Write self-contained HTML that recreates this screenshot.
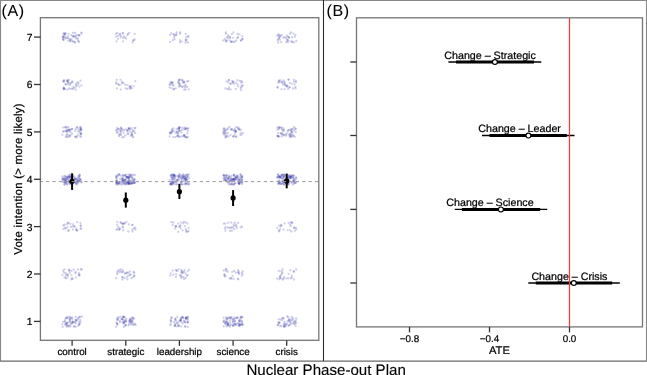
<!DOCTYPE html>
<html><head><meta charset="utf-8"><style>
html,body{margin:0;padding:0;background:#fff;width:647px;height:375px;overflow:hidden}
svg{display:block;will-change:transform;font-family:"Liberation Sans",sans-serif}
text{fill:#000;text-rendering:geometricPrecision;stroke:#000;stroke-width:0.22px}
</style></head><body>
<svg width="647" height="375" viewBox="0 0 647 375" font-family="Liberation Sans, sans-serif">
<rect width="647" height="375" fill="#fff"/>
<g fill="#3434a4" fill-opacity="0.235"><circle cx="68.6" cy="33.8" r="1.15"/><circle cx="75.1" cy="33.0" r="1.15"/><circle cx="72.8" cy="36.0" r="1.15"/><circle cx="63.4" cy="37.5" r="1.15"/><circle cx="63.0" cy="36.7" r="1.15"/><circle cx="63.7" cy="33.2" r="1.15"/><circle cx="70.6" cy="40.8" r="1.15"/><circle cx="64.7" cy="34.5" r="1.15"/><circle cx="74.6" cy="42.1" r="1.15"/><circle cx="73.6" cy="36.3" r="1.15"/><circle cx="81.4" cy="32.7" r="1.15"/><circle cx="79.1" cy="35.2" r="1.15"/><circle cx="65.1" cy="33.4" r="1.15"/><circle cx="68.3" cy="40.7" r="1.15"/><circle cx="65.8" cy="38.3" r="1.15"/><circle cx="74.8" cy="36.1" r="1.15"/><circle cx="73.0" cy="32.9" r="1.15"/><circle cx="63.5" cy="34.4" r="1.15"/><circle cx="75.6" cy="36.7" r="1.15"/><circle cx="68.5" cy="38.3" r="1.15"/><circle cx="71.2" cy="35.3" r="1.15"/><circle cx="77.9" cy="39.5" r="1.15"/><circle cx="67.1" cy="38.2" r="1.15"/><circle cx="72.6" cy="41.3" r="1.15"/><circle cx="76.6" cy="35.2" r="1.15"/><circle cx="81.5" cy="33.4" r="1.15"/><circle cx="70.5" cy="40.1" r="1.15"/><circle cx="65.3" cy="37.3" r="1.15"/><circle cx="63.1" cy="39.2" r="1.15"/><circle cx="77.3" cy="38.2" r="1.15"/><circle cx="79.5" cy="35.5" r="1.15"/><circle cx="75.9" cy="38.4" r="1.15"/><circle cx="73.7" cy="37.0" r="1.15"/><circle cx="78.8" cy="42.0" r="1.15"/><circle cx="71.6" cy="39.1" r="1.15"/><circle cx="63.5" cy="39.5" r="1.15"/><circle cx="75.0" cy="42.5" r="1.15"/><circle cx="78.4" cy="35.2" r="1.15"/><circle cx="69.9" cy="39.2" r="1.15"/><circle cx="62.7" cy="37.0" r="1.15"/><circle cx="65.6" cy="33.4" r="1.15"/><circle cx="63.5" cy="40.2" r="1.15"/><circle cx="64.8" cy="34.8" r="1.15"/><circle cx="70.0" cy="41.3" r="1.15"/><circle cx="63.9" cy="36.9" r="1.15"/><circle cx="73.1" cy="41.4" r="1.15"/><circle cx="78.4" cy="41.2" r="1.15"/><circle cx="67.8" cy="36.5" r="1.15"/><circle cx="123.0" cy="41.4" r="1.15"/><circle cx="134.8" cy="33.8" r="1.15"/><circle cx="119.5" cy="34.6" r="1.15"/><circle cx="120.6" cy="37.3" r="1.15"/><circle cx="127.5" cy="35.0" r="1.15"/><circle cx="116.1" cy="36.6" r="1.15"/><circle cx="123.2" cy="38.1" r="1.15"/><circle cx="134.7" cy="39.4" r="1.15"/><circle cx="126.1" cy="38.6" r="1.15"/><circle cx="129.3" cy="32.8" r="1.15"/><circle cx="133.6" cy="40.3" r="1.15"/><circle cx="133.1" cy="40.5" r="1.15"/><circle cx="123.7" cy="36.4" r="1.15"/><circle cx="118.0" cy="38.8" r="1.15"/><circle cx="117.2" cy="32.9" r="1.15"/><circle cx="120.1" cy="33.9" r="1.15"/><circle cx="122.7" cy="32.8" r="1.15"/><circle cx="116.0" cy="33.8" r="1.15"/><circle cx="118.0" cy="36.0" r="1.15"/><circle cx="116.5" cy="41.3" r="1.15"/><circle cx="128.0" cy="33.8" r="1.15"/><circle cx="120.9" cy="35.8" r="1.15"/><circle cx="123.1" cy="33.5" r="1.15"/><circle cx="132.6" cy="42.5" r="1.15"/><circle cx="125.1" cy="37.3" r="1.15"/><circle cx="171.3" cy="33.3" r="1.15"/><circle cx="176.3" cy="35.0" r="1.15"/><circle cx="185.8" cy="33.9" r="1.15"/><circle cx="170.1" cy="42.1" r="1.15"/><circle cx="180.0" cy="33.7" r="1.15"/><circle cx="180.2" cy="32.5" r="1.15"/><circle cx="180.0" cy="42.4" r="1.15"/><circle cx="186.5" cy="39.5" r="1.15"/><circle cx="174.7" cy="36.0" r="1.15"/><circle cx="172.9" cy="40.2" r="1.15"/><circle cx="180.0" cy="40.3" r="1.15"/><circle cx="176.1" cy="34.5" r="1.15"/><circle cx="185.5" cy="42.5" r="1.15"/><circle cx="186.3" cy="40.6" r="1.15"/><circle cx="185.6" cy="39.9" r="1.15"/><circle cx="174.0" cy="37.6" r="1.15"/><circle cx="176.6" cy="32.5" r="1.15"/><circle cx="170.1" cy="35.1" r="1.15"/><circle cx="174.7" cy="39.4" r="1.15"/><circle cx="188.3" cy="36.9" r="1.15"/><circle cx="188.0" cy="42.5" r="1.15"/><circle cx="188.3" cy="36.0" r="1.15"/><circle cx="173.9" cy="34.6" r="1.15"/><circle cx="173.5" cy="34.3" r="1.15"/><circle cx="181.8" cy="41.6" r="1.15"/><circle cx="186.1" cy="37.2" r="1.15"/><circle cx="236.1" cy="40.5" r="1.15"/><circle cx="225.0" cy="39.1" r="1.15"/><circle cx="241.1" cy="40.4" r="1.15"/><circle cx="238.0" cy="37.2" r="1.15"/><circle cx="226.8" cy="40.4" r="1.15"/><circle cx="229.8" cy="40.5" r="1.15"/><circle cx="242.3" cy="36.3" r="1.15"/><circle cx="231.2" cy="42.1" r="1.15"/><circle cx="237.5" cy="34.0" r="1.15"/><circle cx="225.8" cy="33.8" r="1.15"/><circle cx="241.0" cy="40.6" r="1.15"/><circle cx="226.2" cy="40.8" r="1.15"/><circle cx="242.5" cy="39.1" r="1.15"/><circle cx="230.2" cy="37.9" r="1.15"/><circle cx="225.9" cy="32.4" r="1.15"/><circle cx="242.3" cy="39.0" r="1.15"/><circle cx="233.6" cy="41.9" r="1.15"/><circle cx="231.8" cy="41.3" r="1.15"/><circle cx="239.5" cy="34.4" r="1.15"/><circle cx="228.2" cy="35.3" r="1.15"/><circle cx="228.0" cy="38.3" r="1.15"/><circle cx="228.4" cy="36.6" r="1.15"/><circle cx="225.9" cy="41.7" r="1.15"/><circle cx="230.2" cy="37.0" r="1.15"/><circle cx="234.7" cy="41.6" r="1.15"/><circle cx="231.5" cy="41.8" r="1.15"/><circle cx="233.1" cy="37.8" r="1.15"/><circle cx="233.6" cy="32.4" r="1.15"/><circle cx="231.9" cy="34.1" r="1.15"/><circle cx="223.4" cy="40.5" r="1.15"/><circle cx="226.7" cy="37.1" r="1.15"/><circle cx="237.5" cy="38.0" r="1.15"/><circle cx="283.3" cy="37.6" r="1.15"/><circle cx="287.8" cy="40.4" r="1.15"/><circle cx="279.0" cy="38.0" r="1.15"/><circle cx="281.8" cy="35.1" r="1.15"/><circle cx="292.0" cy="37.5" r="1.15"/><circle cx="287.9" cy="40.1" r="1.15"/><circle cx="294.8" cy="36.8" r="1.15"/><circle cx="288.9" cy="37.5" r="1.15"/><circle cx="286.9" cy="39.4" r="1.15"/><circle cx="285.8" cy="37.8" r="1.15"/><circle cx="286.3" cy="42.0" r="1.15"/><circle cx="290.6" cy="41.3" r="1.15"/><circle cx="295.4" cy="34.9" r="1.15"/><circle cx="287.9" cy="42.0" r="1.15"/><circle cx="293.4" cy="33.6" r="1.15"/><circle cx="279.3" cy="36.8" r="1.15"/><circle cx="278.3" cy="34.7" r="1.15"/><circle cx="278.3" cy="39.2" r="1.15"/><circle cx="292.3" cy="41.5" r="1.15"/><circle cx="279.9" cy="39.7" r="1.15"/><circle cx="289.8" cy="33.7" r="1.15"/><circle cx="294.2" cy="42.3" r="1.15"/><circle cx="281.2" cy="42.1" r="1.15"/><circle cx="284.7" cy="37.3" r="1.15"/><circle cx="296.3" cy="40.9" r="1.15"/><circle cx="280.1" cy="36.7" r="1.15"/><circle cx="287.0" cy="35.7" r="1.15"/><circle cx="280.7" cy="35.5" r="1.15"/><circle cx="291.1" cy="32.4" r="1.15"/><circle cx="287.8" cy="36.8" r="1.15"/><circle cx="277.3" cy="35.7" r="1.15"/><circle cx="289.1" cy="37.5" r="1.15"/><circle cx="278.2" cy="42.5" r="1.15"/><circle cx="292.4" cy="42.3" r="1.15"/><circle cx="279.0" cy="35.0" r="1.15"/><circle cx="277.7" cy="40.3" r="1.15"/><circle cx="67.6" cy="80.9" r="1.15"/><circle cx="70.6" cy="89.1" r="1.15"/><circle cx="78.4" cy="82.3" r="1.15"/><circle cx="65.2" cy="89.2" r="1.15"/><circle cx="73.5" cy="86.9" r="1.15"/><circle cx="64.1" cy="80.2" r="1.15"/><circle cx="75.8" cy="84.0" r="1.15"/><circle cx="63.7" cy="89.4" r="1.15"/><circle cx="74.7" cy="87.9" r="1.15"/><circle cx="63.9" cy="88.5" r="1.15"/><circle cx="63.6" cy="88.6" r="1.15"/><circle cx="71.2" cy="83.1" r="1.15"/><circle cx="73.1" cy="89.2" r="1.15"/><circle cx="67.6" cy="80.9" r="1.15"/><circle cx="72.6" cy="82.1" r="1.15"/><circle cx="64.4" cy="81.3" r="1.15"/><circle cx="63.3" cy="81.7" r="1.15"/><circle cx="68.4" cy="82.8" r="1.15"/><circle cx="77.2" cy="82.6" r="1.15"/><circle cx="72.1" cy="81.5" r="1.15"/><circle cx="69.1" cy="79.8" r="1.15"/><circle cx="67.2" cy="79.8" r="1.15"/><circle cx="76.7" cy="85.3" r="1.15"/><circle cx="66.0" cy="84.5" r="1.15"/><circle cx="80.6" cy="80.7" r="1.15"/><circle cx="78.4" cy="84.1" r="1.15"/><circle cx="72.0" cy="88.3" r="1.15"/><circle cx="70.0" cy="84.9" r="1.15"/><circle cx="75.8" cy="89.8" r="1.15"/><circle cx="69.0" cy="88.3" r="1.15"/><circle cx="76.2" cy="86.2" r="1.15"/><circle cx="70.2" cy="83.2" r="1.15"/><circle cx="63.4" cy="81.0" r="1.15"/><circle cx="63.7" cy="87.3" r="1.15"/><circle cx="67.3" cy="81.3" r="1.15"/><circle cx="64.0" cy="88.3" r="1.15"/><circle cx="79.4" cy="86.6" r="1.15"/><circle cx="67.8" cy="82.1" r="1.15"/><circle cx="68.0" cy="84.4" r="1.15"/><circle cx="65.4" cy="84.2" r="1.15"/><circle cx="67.5" cy="89.6" r="1.15"/><circle cx="81.4" cy="85.3" r="1.15"/><circle cx="120.8" cy="89.6" r="1.15"/><circle cx="122.1" cy="83.3" r="1.15"/><circle cx="116.0" cy="83.6" r="1.15"/><circle cx="125.3" cy="84.8" r="1.15"/><circle cx="119.9" cy="84.8" r="1.15"/><circle cx="116.1" cy="82.3" r="1.15"/><circle cx="117.8" cy="83.8" r="1.15"/><circle cx="116.8" cy="79.8" r="1.15"/><circle cx="122.0" cy="82.0" r="1.15"/><circle cx="127.5" cy="85.1" r="1.15"/><circle cx="130.7" cy="86.4" r="1.15"/><circle cx="130.0" cy="88.7" r="1.15"/><circle cx="123.6" cy="83.0" r="1.15"/><circle cx="135.3" cy="81.2" r="1.15"/><circle cx="130.2" cy="86.3" r="1.15"/><circle cx="116.9" cy="88.3" r="1.15"/><circle cx="133.5" cy="86.1" r="1.15"/><circle cx="130.4" cy="88.0" r="1.15"/><circle cx="118.7" cy="85.0" r="1.15"/><circle cx="125.9" cy="88.3" r="1.15"/><circle cx="131.8" cy="88.2" r="1.15"/><circle cx="127.4" cy="88.9" r="1.15"/><circle cx="129.4" cy="86.8" r="1.15"/><circle cx="120.5" cy="79.9" r="1.15"/><circle cx="172.2" cy="83.4" r="1.15"/><circle cx="171.7" cy="88.3" r="1.15"/><circle cx="180.5" cy="86.1" r="1.15"/><circle cx="181.9" cy="86.7" r="1.15"/><circle cx="179.2" cy="79.6" r="1.15"/><circle cx="185.2" cy="87.4" r="1.15"/><circle cx="179.5" cy="85.2" r="1.15"/><circle cx="182.5" cy="80.3" r="1.15"/><circle cx="184.0" cy="82.2" r="1.15"/><circle cx="171.1" cy="82.4" r="1.15"/><circle cx="183.9" cy="81.7" r="1.15"/><circle cx="184.1" cy="89.7" r="1.15"/><circle cx="179.3" cy="83.6" r="1.15"/><circle cx="179.0" cy="86.7" r="1.15"/><circle cx="184.6" cy="86.0" r="1.15"/><circle cx="182.2" cy="80.4" r="1.15"/><circle cx="172.5" cy="82.2" r="1.15"/><circle cx="184.2" cy="82.8" r="1.15"/><circle cx="180.7" cy="79.7" r="1.15"/><circle cx="170.8" cy="82.4" r="1.15"/><circle cx="182.8" cy="86.8" r="1.15"/><circle cx="182.8" cy="82.6" r="1.15"/><circle cx="179.7" cy="84.4" r="1.15"/><circle cx="178.7" cy="80.8" r="1.15"/><circle cx="187.1" cy="81.7" r="1.15"/><circle cx="188.8" cy="89.3" r="1.15"/><circle cx="169.9" cy="84.4" r="1.15"/><circle cx="185.7" cy="89.7" r="1.15"/><circle cx="178.4" cy="82.4" r="1.15"/><circle cx="173.7" cy="89.4" r="1.15"/><circle cx="173.7" cy="85.6" r="1.15"/><circle cx="172.4" cy="85.1" r="1.15"/><circle cx="188.3" cy="81.0" r="1.15"/><circle cx="185.7" cy="84.9" r="1.15"/><circle cx="187.0" cy="86.9" r="1.15"/><circle cx="174.1" cy="88.9" r="1.15"/><circle cx="179.1" cy="79.9" r="1.15"/><circle cx="169.7" cy="84.7" r="1.15"/><circle cx="178.4" cy="82.7" r="1.15"/><circle cx="172.4" cy="83.2" r="1.15"/><circle cx="175.8" cy="88.3" r="1.15"/><circle cx="169.6" cy="87.4" r="1.15"/><circle cx="239.7" cy="80.8" r="1.15"/><circle cx="241.5" cy="87.0" r="1.15"/><circle cx="241.0" cy="82.6" r="1.15"/><circle cx="230.6" cy="83.7" r="1.15"/><circle cx="242.9" cy="85.7" r="1.15"/><circle cx="230.4" cy="84.1" r="1.15"/><circle cx="228.7" cy="80.1" r="1.15"/><circle cx="225.3" cy="88.3" r="1.15"/><circle cx="228.9" cy="89.3" r="1.15"/><circle cx="228.2" cy="82.4" r="1.15"/><circle cx="233.3" cy="81.6" r="1.15"/><circle cx="230.6" cy="89.5" r="1.15"/><circle cx="240.6" cy="88.0" r="1.15"/><circle cx="235.7" cy="89.1" r="1.15"/><circle cx="241.7" cy="85.3" r="1.15"/><circle cx="237.4" cy="80.1" r="1.15"/><circle cx="237.7" cy="84.3" r="1.15"/><circle cx="238.1" cy="86.3" r="1.15"/><circle cx="228.9" cy="80.1" r="1.15"/><circle cx="241.5" cy="80.9" r="1.15"/><circle cx="232.6" cy="83.2" r="1.15"/><circle cx="229.1" cy="87.3" r="1.15"/><circle cx="242.4" cy="82.3" r="1.15"/><circle cx="236.2" cy="82.7" r="1.15"/><circle cx="234.2" cy="83.7" r="1.15"/><circle cx="226.6" cy="81.3" r="1.15"/><circle cx="227.4" cy="89.0" r="1.15"/><circle cx="233.0" cy="81.9" r="1.15"/><circle cx="241.1" cy="90.0" r="1.15"/><circle cx="232.1" cy="81.1" r="1.15"/><circle cx="280.7" cy="80.5" r="1.15"/><circle cx="283.6" cy="80.5" r="1.15"/><circle cx="281.6" cy="82.3" r="1.15"/><circle cx="288.1" cy="88.8" r="1.15"/><circle cx="291.6" cy="83.9" r="1.15"/><circle cx="285.0" cy="85.1" r="1.15"/><circle cx="284.3" cy="83.1" r="1.15"/><circle cx="278.1" cy="82.5" r="1.15"/><circle cx="295.9" cy="80.9" r="1.15"/><circle cx="286.8" cy="86.1" r="1.15"/><circle cx="293.8" cy="81.8" r="1.15"/><circle cx="282.2" cy="82.2" r="1.15"/><circle cx="284.7" cy="84.2" r="1.15"/><circle cx="295.6" cy="88.4" r="1.15"/><circle cx="294.0" cy="79.8" r="1.15"/><circle cx="277.5" cy="87.0" r="1.15"/><circle cx="294.5" cy="84.5" r="1.15"/><circle cx="288.4" cy="79.6" r="1.15"/><circle cx="284.6" cy="89.2" r="1.15"/><circle cx="293.1" cy="88.5" r="1.15"/><circle cx="296.0" cy="82.2" r="1.15"/><circle cx="279.0" cy="81.2" r="1.15"/><circle cx="287.1" cy="86.7" r="1.15"/><circle cx="295.4" cy="87.1" r="1.15"/><circle cx="289.6" cy="87.6" r="1.15"/><circle cx="285.9" cy="85.3" r="1.15"/><circle cx="277.7" cy="87.7" r="1.15"/><circle cx="281.5" cy="89.2" r="1.15"/><circle cx="289.6" cy="82.8" r="1.15"/><circle cx="279.4" cy="82.2" r="1.15"/><circle cx="289.4" cy="86.9" r="1.15"/><circle cx="279.1" cy="80.3" r="1.15"/><circle cx="287.2" cy="85.7" r="1.15"/><circle cx="284.5" cy="81.9" r="1.15"/><circle cx="288.7" cy="79.7" r="1.15"/><circle cx="282.8" cy="84.4" r="1.15"/><circle cx="81.1" cy="133.7" r="1.15"/><circle cx="79.6" cy="131.9" r="1.15"/><circle cx="66.9" cy="129.5" r="1.15"/><circle cx="81.1" cy="134.3" r="1.15"/><circle cx="68.3" cy="127.2" r="1.15"/><circle cx="72.1" cy="134.0" r="1.15"/><circle cx="70.5" cy="129.7" r="1.15"/><circle cx="75.4" cy="136.6" r="1.15"/><circle cx="66.7" cy="127.3" r="1.15"/><circle cx="68.9" cy="131.4" r="1.15"/><circle cx="75.7" cy="129.0" r="1.15"/><circle cx="77.9" cy="134.7" r="1.15"/><circle cx="72.2" cy="129.1" r="1.15"/><circle cx="81.3" cy="130.2" r="1.15"/><circle cx="78.4" cy="129.4" r="1.15"/><circle cx="66.6" cy="134.9" r="1.15"/><circle cx="68.1" cy="136.9" r="1.15"/><circle cx="72.0" cy="128.9" r="1.15"/><circle cx="66.7" cy="131.3" r="1.15"/><circle cx="75.3" cy="136.8" r="1.15"/><circle cx="65.2" cy="131.1" r="1.15"/><circle cx="66.5" cy="137.1" r="1.15"/><circle cx="65.1" cy="127.5" r="1.15"/><circle cx="63.5" cy="131.1" r="1.15"/><circle cx="79.9" cy="136.2" r="1.15"/><circle cx="76.7" cy="137.4" r="1.15"/><circle cx="80.6" cy="130.4" r="1.15"/><circle cx="65.9" cy="136.7" r="1.15"/><circle cx="76.9" cy="127.3" r="1.15"/><circle cx="75.3" cy="130.9" r="1.15"/><circle cx="69.6" cy="130.4" r="1.15"/><circle cx="65.6" cy="127.0" r="1.15"/><circle cx="67.8" cy="130.6" r="1.15"/><circle cx="81.0" cy="128.3" r="1.15"/><circle cx="81.2" cy="129.1" r="1.15"/><circle cx="69.3" cy="135.5" r="1.15"/><circle cx="78.4" cy="131.5" r="1.15"/><circle cx="63.3" cy="131.9" r="1.15"/><circle cx="69.6" cy="136.5" r="1.15"/><circle cx="66.1" cy="130.8" r="1.15"/><circle cx="79.9" cy="127.3" r="1.15"/><circle cx="70.4" cy="135.4" r="1.15"/><circle cx="77.3" cy="127.4" r="1.15"/><circle cx="63.0" cy="127.6" r="1.15"/><circle cx="80.3" cy="129.7" r="1.15"/><circle cx="76.9" cy="136.3" r="1.15"/><circle cx="68.9" cy="129.8" r="1.15"/><circle cx="81.1" cy="133.4" r="1.15"/><circle cx="67.4" cy="134.4" r="1.15"/><circle cx="68.5" cy="129.8" r="1.15"/><circle cx="62.4" cy="134.8" r="1.15"/><circle cx="80.3" cy="133.6" r="1.15"/><circle cx="80.8" cy="127.2" r="1.15"/><circle cx="66.9" cy="131.9" r="1.15"/><circle cx="81.1" cy="136.9" r="1.15"/><circle cx="69.9" cy="129.6" r="1.15"/><circle cx="70.7" cy="132.1" r="1.15"/><circle cx="80.5" cy="128.9" r="1.15"/><circle cx="131.7" cy="134.7" r="1.15"/><circle cx="132.1" cy="135.0" r="1.15"/><circle cx="127.9" cy="130.4" r="1.15"/><circle cx="122.3" cy="130.7" r="1.15"/><circle cx="131.3" cy="127.8" r="1.15"/><circle cx="119.9" cy="134.8" r="1.15"/><circle cx="120.8" cy="127.7" r="1.15"/><circle cx="116.7" cy="132.7" r="1.15"/><circle cx="122.4" cy="137.2" r="1.15"/><circle cx="133.3" cy="137.3" r="1.15"/><circle cx="121.2" cy="127.9" r="1.15"/><circle cx="117.9" cy="132.2" r="1.15"/><circle cx="129.9" cy="131.6" r="1.15"/><circle cx="120.6" cy="131.3" r="1.15"/><circle cx="128.2" cy="134.0" r="1.15"/><circle cx="130.7" cy="135.8" r="1.15"/><circle cx="129.0" cy="128.2" r="1.15"/><circle cx="132.5" cy="130.0" r="1.15"/><circle cx="127.1" cy="130.9" r="1.15"/><circle cx="130.5" cy="129.1" r="1.15"/><circle cx="120.8" cy="129.5" r="1.15"/><circle cx="119.0" cy="136.2" r="1.15"/><circle cx="127.3" cy="130.4" r="1.15"/><circle cx="123.8" cy="137.3" r="1.15"/><circle cx="125.9" cy="129.4" r="1.15"/><circle cx="131.8" cy="133.8" r="1.15"/><circle cx="135.4" cy="128.0" r="1.15"/><circle cx="125.3" cy="135.5" r="1.15"/><circle cx="132.5" cy="136.5" r="1.15"/><circle cx="116.8" cy="130.0" r="1.15"/><circle cx="118.3" cy="129.0" r="1.15"/><circle cx="135.1" cy="133.0" r="1.15"/><circle cx="134.2" cy="130.9" r="1.15"/><circle cx="133.0" cy="131.7" r="1.15"/><circle cx="121.1" cy="135.1" r="1.15"/><circle cx="134.5" cy="128.1" r="1.15"/><circle cx="127.7" cy="133.4" r="1.15"/><circle cx="120.3" cy="130.8" r="1.15"/><circle cx="118.8" cy="129.1" r="1.15"/><circle cx="121.0" cy="133.2" r="1.15"/><circle cx="128.8" cy="129.1" r="1.15"/><circle cx="116.2" cy="130.4" r="1.15"/><circle cx="129.3" cy="128.9" r="1.15"/><circle cx="122.1" cy="129.1" r="1.15"/><circle cx="131.6" cy="132.7" r="1.15"/><circle cx="117.2" cy="128.0" r="1.15"/><circle cx="123.7" cy="132.7" r="1.15"/><circle cx="128.5" cy="127.9" r="1.15"/><circle cx="119.2" cy="134.2" r="1.15"/><circle cx="124.0" cy="129.9" r="1.15"/><circle cx="175.6" cy="136.9" r="1.15"/><circle cx="175.7" cy="132.9" r="1.15"/><circle cx="176.6" cy="131.3" r="1.15"/><circle cx="186.5" cy="137.3" r="1.15"/><circle cx="176.7" cy="129.0" r="1.15"/><circle cx="183.9" cy="129.1" r="1.15"/><circle cx="169.7" cy="136.4" r="1.15"/><circle cx="177.9" cy="135.5" r="1.15"/><circle cx="177.6" cy="136.2" r="1.15"/><circle cx="178.6" cy="128.7" r="1.15"/><circle cx="169.9" cy="132.7" r="1.15"/><circle cx="182.2" cy="136.4" r="1.15"/><circle cx="171.3" cy="133.5" r="1.15"/><circle cx="176.9" cy="132.2" r="1.15"/><circle cx="172.5" cy="129.9" r="1.15"/><circle cx="179.8" cy="136.6" r="1.15"/><circle cx="171.7" cy="132.1" r="1.15"/><circle cx="185.4" cy="137.0" r="1.15"/><circle cx="173.5" cy="128.3" r="1.15"/><circle cx="188.1" cy="137.1" r="1.15"/><circle cx="179.1" cy="127.5" r="1.15"/><circle cx="187.8" cy="131.0" r="1.15"/><circle cx="187.3" cy="133.4" r="1.15"/><circle cx="185.8" cy="128.6" r="1.15"/><circle cx="185.0" cy="129.3" r="1.15"/><circle cx="177.5" cy="135.8" r="1.15"/><circle cx="185.9" cy="128.9" r="1.15"/><circle cx="173.9" cy="131.1" r="1.15"/><circle cx="179.8" cy="131.0" r="1.15"/><circle cx="172.0" cy="129.5" r="1.15"/><circle cx="183.8" cy="136.3" r="1.15"/><circle cx="170.4" cy="132.8" r="1.15"/><circle cx="184.4" cy="127.4" r="1.15"/><circle cx="186.0" cy="128.2" r="1.15"/><circle cx="181.4" cy="132.7" r="1.15"/><circle cx="181.9" cy="130.2" r="1.15"/><circle cx="177.8" cy="133.0" r="1.15"/><circle cx="177.9" cy="133.8" r="1.15"/><circle cx="178.4" cy="131.5" r="1.15"/><circle cx="170.1" cy="133.4" r="1.15"/><circle cx="179.2" cy="129.4" r="1.15"/><circle cx="184.6" cy="135.1" r="1.15"/><circle cx="178.6" cy="128.8" r="1.15"/><circle cx="178.9" cy="128.1" r="1.15"/><circle cx="172.1" cy="131.5" r="1.15"/><circle cx="171.4" cy="131.6" r="1.15"/><circle cx="179.6" cy="127.4" r="1.15"/><circle cx="182.1" cy="127.8" r="1.15"/><circle cx="184.0" cy="135.1" r="1.15"/><circle cx="179.6" cy="127.5" r="1.15"/><circle cx="179.5" cy="130.9" r="1.15"/><circle cx="188.2" cy="128.4" r="1.15"/><circle cx="186.4" cy="137.3" r="1.15"/><circle cx="183.9" cy="135.5" r="1.15"/><circle cx="173.4" cy="137.2" r="1.15"/><circle cx="179.2" cy="136.9" r="1.15"/><circle cx="187.6" cy="128.7" r="1.15"/><circle cx="185.1" cy="136.7" r="1.15"/><circle cx="224.6" cy="130.6" r="1.15"/><circle cx="238.1" cy="128.6" r="1.15"/><circle cx="240.9" cy="129.8" r="1.15"/><circle cx="239.3" cy="128.5" r="1.15"/><circle cx="233.1" cy="136.5" r="1.15"/><circle cx="227.4" cy="129.7" r="1.15"/><circle cx="233.2" cy="130.3" r="1.15"/><circle cx="224.0" cy="128.9" r="1.15"/><circle cx="226.5" cy="136.7" r="1.15"/><circle cx="236.6" cy="136.3" r="1.15"/><circle cx="226.6" cy="135.1" r="1.15"/><circle cx="225.6" cy="132.5" r="1.15"/><circle cx="235.8" cy="130.7" r="1.15"/><circle cx="240.4" cy="132.8" r="1.15"/><circle cx="234.7" cy="136.2" r="1.15"/><circle cx="225.4" cy="137.3" r="1.15"/><circle cx="235.6" cy="131.1" r="1.15"/><circle cx="238.9" cy="129.7" r="1.15"/><circle cx="242.7" cy="133.0" r="1.15"/><circle cx="230.4" cy="134.9" r="1.15"/><circle cx="232.0" cy="128.8" r="1.15"/><circle cx="237.9" cy="127.5" r="1.15"/><circle cx="239.4" cy="129.6" r="1.15"/><circle cx="235.8" cy="137.2" r="1.15"/><circle cx="234.8" cy="133.9" r="1.15"/><circle cx="229.4" cy="127.0" r="1.15"/><circle cx="224.0" cy="128.5" r="1.15"/><circle cx="235.4" cy="131.5" r="1.15"/><circle cx="233.3" cy="136.3" r="1.15"/><circle cx="225.9" cy="129.3" r="1.15"/><circle cx="236.1" cy="127.2" r="1.15"/><circle cx="223.4" cy="130.7" r="1.15"/><circle cx="225.4" cy="130.7" r="1.15"/><circle cx="227.7" cy="133.0" r="1.15"/><circle cx="234.8" cy="129.1" r="1.15"/><circle cx="235.5" cy="131.9" r="1.15"/><circle cx="225.9" cy="136.7" r="1.15"/><circle cx="228.1" cy="128.5" r="1.15"/><circle cx="225.2" cy="133.6" r="1.15"/><circle cx="240.4" cy="135.1" r="1.15"/><circle cx="231.2" cy="129.7" r="1.15"/><circle cx="223.5" cy="133.7" r="1.15"/><circle cx="234.3" cy="130.6" r="1.15"/><circle cx="236.0" cy="131.6" r="1.15"/><circle cx="241.7" cy="134.6" r="1.15"/><circle cx="228.2" cy="136.4" r="1.15"/><circle cx="224.2" cy="132.5" r="1.15"/><circle cx="231.3" cy="129.5" r="1.15"/><circle cx="224.4" cy="135.1" r="1.15"/><circle cx="223.5" cy="132.7" r="1.15"/><circle cx="295.3" cy="128.5" r="1.15"/><circle cx="280.8" cy="133.3" r="1.15"/><circle cx="286.8" cy="133.7" r="1.15"/><circle cx="292.8" cy="128.8" r="1.15"/><circle cx="283.0" cy="130.1" r="1.15"/><circle cx="277.9" cy="136.2" r="1.15"/><circle cx="292.2" cy="134.4" r="1.15"/><circle cx="277.0" cy="135.8" r="1.15"/><circle cx="291.5" cy="131.8" r="1.15"/><circle cx="291.4" cy="131.7" r="1.15"/><circle cx="281.3" cy="128.1" r="1.15"/><circle cx="281.5" cy="127.4" r="1.15"/><circle cx="283.5" cy="134.8" r="1.15"/><circle cx="290.5" cy="135.8" r="1.15"/><circle cx="290.8" cy="129.7" r="1.15"/><circle cx="287.8" cy="131.5" r="1.15"/><circle cx="292.4" cy="132.4" r="1.15"/><circle cx="282.1" cy="133.7" r="1.15"/><circle cx="295.8" cy="129.2" r="1.15"/><circle cx="294.1" cy="127.1" r="1.15"/><circle cx="282.0" cy="129.4" r="1.15"/><circle cx="291.5" cy="136.8" r="1.15"/><circle cx="291.5" cy="130.4" r="1.15"/><circle cx="294.2" cy="130.4" r="1.15"/><circle cx="281.6" cy="136.4" r="1.15"/><circle cx="289.3" cy="134.2" r="1.15"/><circle cx="289.9" cy="137.2" r="1.15"/><circle cx="286.1" cy="135.7" r="1.15"/><circle cx="290.6" cy="135.9" r="1.15"/><circle cx="285.5" cy="134.5" r="1.15"/><circle cx="288.1" cy="130.2" r="1.15"/><circle cx="281.1" cy="133.5" r="1.15"/><circle cx="278.4" cy="136.5" r="1.15"/><circle cx="279.7" cy="127.3" r="1.15"/><circle cx="279.0" cy="136.6" r="1.15"/><circle cx="283.7" cy="128.5" r="1.15"/><circle cx="277.5" cy="127.4" r="1.15"/><circle cx="290.5" cy="133.6" r="1.15"/><circle cx="290.6" cy="134.6" r="1.15"/><circle cx="278.2" cy="133.1" r="1.15"/><circle cx="284.0" cy="135.5" r="1.15"/><circle cx="293.0" cy="136.2" r="1.15"/><circle cx="278.2" cy="136.0" r="1.15"/><circle cx="294.8" cy="136.8" r="1.15"/><circle cx="279.0" cy="129.1" r="1.15"/><circle cx="279.1" cy="127.3" r="1.15"/><circle cx="293.5" cy="135.4" r="1.15"/><circle cx="289.3" cy="135.6" r="1.15"/><circle cx="289.3" cy="130.0" r="1.15"/><circle cx="278.9" cy="128.0" r="1.15"/><circle cx="291.7" cy="129.1" r="1.15"/><circle cx="283.2" cy="131.4" r="1.15"/><circle cx="277.3" cy="129.6" r="1.15"/><circle cx="282.4" cy="134.4" r="1.15"/><circle cx="284.1" cy="130.3" r="1.15"/><circle cx="295.8" cy="132.2" r="1.15"/><circle cx="79.0" cy="180.8" r="1.15"/><circle cx="62.9" cy="178.7" r="1.15"/><circle cx="70.9" cy="182.4" r="1.15"/><circle cx="69.1" cy="181.7" r="1.15"/><circle cx="72.8" cy="176.6" r="1.15"/><circle cx="79.2" cy="175.3" r="1.15"/><circle cx="78.4" cy="176.1" r="1.15"/><circle cx="62.3" cy="176.5" r="1.15"/><circle cx="77.2" cy="184.5" r="1.15"/><circle cx="62.4" cy="179.5" r="1.15"/><circle cx="71.9" cy="182.6" r="1.15"/><circle cx="65.9" cy="179.5" r="1.15"/><circle cx="69.1" cy="183.0" r="1.15"/><circle cx="67.4" cy="184.2" r="1.15"/><circle cx="67.9" cy="176.6" r="1.15"/><circle cx="76.0" cy="179.5" r="1.15"/><circle cx="64.5" cy="181.0" r="1.15"/><circle cx="63.9" cy="182.6" r="1.15"/><circle cx="76.0" cy="182.5" r="1.15"/><circle cx="74.6" cy="178.1" r="1.15"/><circle cx="70.2" cy="178.5" r="1.15"/><circle cx="79.8" cy="175.3" r="1.15"/><circle cx="79.7" cy="174.6" r="1.15"/><circle cx="66.3" cy="177.1" r="1.15"/><circle cx="80.0" cy="179.6" r="1.15"/><circle cx="69.7" cy="183.6" r="1.15"/><circle cx="66.9" cy="179.2" r="1.15"/><circle cx="72.7" cy="182.2" r="1.15"/><circle cx="77.1" cy="181.1" r="1.15"/><circle cx="69.1" cy="177.8" r="1.15"/><circle cx="65.3" cy="183.1" r="1.15"/><circle cx="75.3" cy="182.1" r="1.15"/><circle cx="65.6" cy="178.9" r="1.15"/><circle cx="77.5" cy="180.4" r="1.15"/><circle cx="64.8" cy="179.2" r="1.15"/><circle cx="79.6" cy="176.8" r="1.15"/><circle cx="66.1" cy="177.5" r="1.15"/><circle cx="76.1" cy="183.1" r="1.15"/><circle cx="65.3" cy="176.0" r="1.15"/><circle cx="67.2" cy="177.8" r="1.15"/><circle cx="72.5" cy="176.0" r="1.15"/><circle cx="68.7" cy="176.3" r="1.15"/><circle cx="81.4" cy="181.9" r="1.15"/><circle cx="64.3" cy="184.4" r="1.15"/><circle cx="64.3" cy="178.4" r="1.15"/><circle cx="81.6" cy="182.6" r="1.15"/><circle cx="76.7" cy="178.9" r="1.15"/><circle cx="66.1" cy="181.0" r="1.15"/><circle cx="64.4" cy="176.5" r="1.15"/><circle cx="69.9" cy="174.7" r="1.15"/><circle cx="70.1" cy="182.6" r="1.15"/><circle cx="75.9" cy="179.6" r="1.15"/><circle cx="74.7" cy="179.2" r="1.15"/><circle cx="65.1" cy="180.6" r="1.15"/><circle cx="70.2" cy="182.1" r="1.15"/><circle cx="80.1" cy="178.8" r="1.15"/><circle cx="73.5" cy="182.2" r="1.15"/><circle cx="70.6" cy="176.7" r="1.15"/><circle cx="76.5" cy="183.5" r="1.15"/><circle cx="77.5" cy="181.6" r="1.15"/><circle cx="79.0" cy="181.4" r="1.15"/><circle cx="74.9" cy="179.1" r="1.15"/><circle cx="68.4" cy="180.9" r="1.15"/><circle cx="64.2" cy="178.7" r="1.15"/><circle cx="77.6" cy="181.8" r="1.15"/><circle cx="74.6" cy="177.0" r="1.15"/><circle cx="70.6" cy="179.1" r="1.15"/><circle cx="74.5" cy="178.6" r="1.15"/><circle cx="75.5" cy="184.0" r="1.15"/><circle cx="65.9" cy="181.2" r="1.15"/><circle cx="77.6" cy="178.4" r="1.15"/><circle cx="71.9" cy="184.5" r="1.15"/><circle cx="63.0" cy="180.0" r="1.15"/><circle cx="65.5" cy="182.5" r="1.15"/><circle cx="80.7" cy="179.8" r="1.15"/><circle cx="64.3" cy="180.3" r="1.15"/><circle cx="72.9" cy="181.8" r="1.15"/><circle cx="72.3" cy="181.0" r="1.15"/><circle cx="78.5" cy="179.8" r="1.15"/><circle cx="70.3" cy="184.2" r="1.15"/><circle cx="66.4" cy="181.5" r="1.15"/><circle cx="70.0" cy="182.3" r="1.15"/><circle cx="64.7" cy="184.6" r="1.15"/><circle cx="69.3" cy="174.9" r="1.15"/><circle cx="67.7" cy="178.5" r="1.15"/><circle cx="62.6" cy="178.7" r="1.15"/><circle cx="70.5" cy="181.6" r="1.15"/><circle cx="69.2" cy="177.1" r="1.15"/><circle cx="66.7" cy="182.1" r="1.15"/><circle cx="80.7" cy="179.8" r="1.15"/><circle cx="66.6" cy="182.7" r="1.15"/><circle cx="70.0" cy="176.6" r="1.15"/><circle cx="64.8" cy="182.4" r="1.15"/><circle cx="78.2" cy="181.0" r="1.15"/><circle cx="71.5" cy="180.2" r="1.15"/><circle cx="66.7" cy="184.4" r="1.15"/><circle cx="69.2" cy="181.0" r="1.15"/><circle cx="78.3" cy="182.8" r="1.15"/><circle cx="71.5" cy="177.4" r="1.15"/><circle cx="73.0" cy="175.7" r="1.15"/><circle cx="78.6" cy="178.0" r="1.15"/><circle cx="79.0" cy="177.1" r="1.15"/><circle cx="69.7" cy="177.0" r="1.15"/><circle cx="70.7" cy="176.3" r="1.15"/><circle cx="62.4" cy="181.9" r="1.15"/><circle cx="67.8" cy="176.9" r="1.15"/><circle cx="68.2" cy="179.3" r="1.15"/><circle cx="70.7" cy="181.0" r="1.15"/><circle cx="128.9" cy="178.1" r="1.15"/><circle cx="134.2" cy="183.2" r="1.15"/><circle cx="117.1" cy="183.0" r="1.15"/><circle cx="133.8" cy="182.5" r="1.15"/><circle cx="118.8" cy="183.0" r="1.15"/><circle cx="128.4" cy="174.5" r="1.15"/><circle cx="116.2" cy="184.3" r="1.15"/><circle cx="128.9" cy="177.0" r="1.15"/><circle cx="118.0" cy="175.8" r="1.15"/><circle cx="120.6" cy="182.4" r="1.15"/><circle cx="122.8" cy="175.9" r="1.15"/><circle cx="133.7" cy="182.6" r="1.15"/><circle cx="119.3" cy="183.6" r="1.15"/><circle cx="127.9" cy="182.5" r="1.15"/><circle cx="129.1" cy="183.7" r="1.15"/><circle cx="131.4" cy="183.1" r="1.15"/><circle cx="119.9" cy="181.6" r="1.15"/><circle cx="126.4" cy="182.1" r="1.15"/><circle cx="124.6" cy="183.5" r="1.15"/><circle cx="126.9" cy="177.1" r="1.15"/><circle cx="120.6" cy="175.8" r="1.15"/><circle cx="125.7" cy="175.0" r="1.15"/><circle cx="125.2" cy="175.9" r="1.15"/><circle cx="125.6" cy="179.5" r="1.15"/><circle cx="126.6" cy="183.3" r="1.15"/><circle cx="116.1" cy="183.1" r="1.15"/><circle cx="125.2" cy="180.2" r="1.15"/><circle cx="129.0" cy="183.1" r="1.15"/><circle cx="123.3" cy="178.7" r="1.15"/><circle cx="134.8" cy="175.1" r="1.15"/><circle cx="128.5" cy="181.0" r="1.15"/><circle cx="116.6" cy="180.7" r="1.15"/><circle cx="129.4" cy="184.0" r="1.15"/><circle cx="122.5" cy="184.6" r="1.15"/><circle cx="126.0" cy="179.4" r="1.15"/><circle cx="133.6" cy="174.7" r="1.15"/><circle cx="130.1" cy="180.9" r="1.15"/><circle cx="122.6" cy="183.3" r="1.15"/><circle cx="123.2" cy="179.3" r="1.15"/><circle cx="126.3" cy="182.4" r="1.15"/><circle cx="120.1" cy="178.9" r="1.15"/><circle cx="124.3" cy="180.1" r="1.15"/><circle cx="132.2" cy="177.4" r="1.15"/><circle cx="132.2" cy="178.6" r="1.15"/><circle cx="125.9" cy="177.2" r="1.15"/><circle cx="125.9" cy="184.5" r="1.15"/><circle cx="128.8" cy="182.6" r="1.15"/><circle cx="122.5" cy="177.7" r="1.15"/><circle cx="121.9" cy="180.5" r="1.15"/><circle cx="128.4" cy="182.5" r="1.15"/><circle cx="116.8" cy="181.9" r="1.15"/><circle cx="133.4" cy="180.0" r="1.15"/><circle cx="117.0" cy="177.5" r="1.15"/><circle cx="116.1" cy="176.3" r="1.15"/><circle cx="134.1" cy="180.7" r="1.15"/><circle cx="128.9" cy="182.6" r="1.15"/><circle cx="133.8" cy="180.7" r="1.15"/><circle cx="128.1" cy="180.9" r="1.15"/><circle cx="129.6" cy="180.6" r="1.15"/><circle cx="129.3" cy="176.6" r="1.15"/><circle cx="129.1" cy="179.1" r="1.15"/><circle cx="130.9" cy="175.4" r="1.15"/><circle cx="119.6" cy="174.7" r="1.15"/><circle cx="131.2" cy="183.9" r="1.15"/><circle cx="128.9" cy="178.2" r="1.15"/><circle cx="132.1" cy="182.5" r="1.15"/><circle cx="127.0" cy="177.0" r="1.15"/><circle cx="121.9" cy="178.7" r="1.15"/><circle cx="122.2" cy="178.8" r="1.15"/><circle cx="128.6" cy="184.1" r="1.15"/><circle cx="117.1" cy="180.3" r="1.15"/><circle cx="116.8" cy="175.6" r="1.15"/><circle cx="131.9" cy="180.3" r="1.15"/><circle cx="134.0" cy="179.0" r="1.15"/><circle cx="116.3" cy="178.4" r="1.15"/><circle cx="127.6" cy="184.1" r="1.15"/><circle cx="135.2" cy="179.3" r="1.15"/><circle cx="124.1" cy="175.4" r="1.15"/><circle cx="128.6" cy="176.6" r="1.15"/><circle cx="119.0" cy="174.5" r="1.15"/><circle cx="116.1" cy="181.5" r="1.15"/><circle cx="118.4" cy="184.4" r="1.15"/><circle cx="117.7" cy="183.4" r="1.15"/><circle cx="118.5" cy="174.5" r="1.15"/><circle cx="130.1" cy="176.9" r="1.15"/><circle cx="130.4" cy="176.3" r="1.15"/><circle cx="117.0" cy="182.4" r="1.15"/><circle cx="130.0" cy="183.3" r="1.15"/><circle cx="130.3" cy="175.2" r="1.15"/><circle cx="128.3" cy="181.7" r="1.15"/><circle cx="125.0" cy="184.1" r="1.15"/><circle cx="121.0" cy="184.4" r="1.15"/><circle cx="130.1" cy="174.5" r="1.15"/><circle cx="116.3" cy="181.1" r="1.15"/><circle cx="132.0" cy="175.2" r="1.15"/><circle cx="122.1" cy="181.9" r="1.15"/><circle cx="119.3" cy="183.3" r="1.15"/><circle cx="125.5" cy="175.0" r="1.15"/><circle cx="123.2" cy="180.3" r="1.15"/><circle cx="124.6" cy="181.4" r="1.15"/><circle cx="118.8" cy="182.7" r="1.15"/><circle cx="123.1" cy="181.1" r="1.15"/><circle cx="128.3" cy="178.7" r="1.15"/><circle cx="123.6" cy="182.5" r="1.15"/><circle cx="134.5" cy="182.5" r="1.15"/><circle cx="127.1" cy="177.4" r="1.15"/><circle cx="117.2" cy="184.5" r="1.15"/><circle cx="129.8" cy="183.0" r="1.15"/><circle cx="122.5" cy="180.7" r="1.15"/><circle cx="135.2" cy="183.0" r="1.15"/><circle cx="127.8" cy="177.6" r="1.15"/><circle cx="124.4" cy="183.6" r="1.15"/><circle cx="123.4" cy="181.5" r="1.15"/><circle cx="127.8" cy="183.7" r="1.15"/><circle cx="131.8" cy="177.3" r="1.15"/><circle cx="116.0" cy="177.1" r="1.15"/><circle cx="124.3" cy="180.5" r="1.15"/><circle cx="132.0" cy="183.6" r="1.15"/><circle cx="116.8" cy="183.0" r="1.15"/><circle cx="131.9" cy="183.4" r="1.15"/><circle cx="127.2" cy="177.2" r="1.15"/><circle cx="132.7" cy="182.8" r="1.15"/><circle cx="129.4" cy="183.9" r="1.15"/><circle cx="122.8" cy="175.2" r="1.15"/><circle cx="126.9" cy="182.7" r="1.15"/><circle cx="173.5" cy="182.2" r="1.15"/><circle cx="187.9" cy="176.8" r="1.15"/><circle cx="181.5" cy="181.4" r="1.15"/><circle cx="178.7" cy="176.5" r="1.15"/><circle cx="174.6" cy="182.2" r="1.15"/><circle cx="185.1" cy="179.1" r="1.15"/><circle cx="171.3" cy="182.7" r="1.15"/><circle cx="184.7" cy="176.8" r="1.15"/><circle cx="181.0" cy="183.7" r="1.15"/><circle cx="186.9" cy="179.8" r="1.15"/><circle cx="178.9" cy="180.5" r="1.15"/><circle cx="173.3" cy="176.4" r="1.15"/><circle cx="173.1" cy="181.7" r="1.15"/><circle cx="176.7" cy="180.2" r="1.15"/><circle cx="177.5" cy="179.7" r="1.15"/><circle cx="172.5" cy="174.8" r="1.15"/><circle cx="189.1" cy="178.3" r="1.15"/><circle cx="171.7" cy="180.9" r="1.15"/><circle cx="185.0" cy="176.0" r="1.15"/><circle cx="181.3" cy="177.9" r="1.15"/><circle cx="179.8" cy="174.6" r="1.15"/><circle cx="170.3" cy="184.7" r="1.15"/><circle cx="186.6" cy="179.4" r="1.15"/><circle cx="180.7" cy="177.1" r="1.15"/><circle cx="184.9" cy="178.8" r="1.15"/><circle cx="188.2" cy="182.3" r="1.15"/><circle cx="185.6" cy="184.4" r="1.15"/><circle cx="174.6" cy="174.8" r="1.15"/><circle cx="173.5" cy="176.2" r="1.15"/><circle cx="171.2" cy="174.9" r="1.15"/><circle cx="180.5" cy="183.4" r="1.15"/><circle cx="178.6" cy="184.2" r="1.15"/><circle cx="187.4" cy="175.0" r="1.15"/><circle cx="181.3" cy="178.5" r="1.15"/><circle cx="172.0" cy="184.3" r="1.15"/><circle cx="174.6" cy="180.2" r="1.15"/><circle cx="182.2" cy="184.3" r="1.15"/><circle cx="182.7" cy="178.4" r="1.15"/><circle cx="178.4" cy="176.0" r="1.15"/><circle cx="188.5" cy="184.7" r="1.15"/><circle cx="173.9" cy="174.8" r="1.15"/><circle cx="174.6" cy="178.0" r="1.15"/><circle cx="187.3" cy="183.8" r="1.15"/><circle cx="186.0" cy="174.8" r="1.15"/><circle cx="185.0" cy="181.7" r="1.15"/><circle cx="182.3" cy="184.6" r="1.15"/><circle cx="170.7" cy="175.9" r="1.15"/><circle cx="184.4" cy="184.1" r="1.15"/><circle cx="182.9" cy="177.5" r="1.15"/><circle cx="181.2" cy="182.2" r="1.15"/><circle cx="171.7" cy="177.7" r="1.15"/><circle cx="174.6" cy="175.7" r="1.15"/><circle cx="179.0" cy="176.1" r="1.15"/><circle cx="174.3" cy="175.8" r="1.15"/><circle cx="182.9" cy="174.5" r="1.15"/><circle cx="183.7" cy="176.4" r="1.15"/><circle cx="170.3" cy="184.0" r="1.15"/><circle cx="173.9" cy="184.1" r="1.15"/><circle cx="186.6" cy="183.6" r="1.15"/><circle cx="172.3" cy="179.0" r="1.15"/><circle cx="171.5" cy="184.0" r="1.15"/><circle cx="186.1" cy="180.9" r="1.15"/><circle cx="178.5" cy="177.9" r="1.15"/><circle cx="185.7" cy="179.3" r="1.15"/><circle cx="181.9" cy="175.8" r="1.15"/><circle cx="173.9" cy="174.9" r="1.15"/><circle cx="183.6" cy="180.1" r="1.15"/><circle cx="172.4" cy="183.4" r="1.15"/><circle cx="174.8" cy="178.6" r="1.15"/><circle cx="172.7" cy="177.2" r="1.15"/><circle cx="186.1" cy="177.8" r="1.15"/><circle cx="172.9" cy="179.5" r="1.15"/><circle cx="175.8" cy="183.8" r="1.15"/><circle cx="171.8" cy="184.5" r="1.15"/><circle cx="170.7" cy="183.7" r="1.15"/><circle cx="182.7" cy="176.6" r="1.15"/><circle cx="179.0" cy="177.3" r="1.15"/><circle cx="174.7" cy="176.5" r="1.15"/><circle cx="176.7" cy="184.7" r="1.15"/><circle cx="189.2" cy="184.0" r="1.15"/><circle cx="171.5" cy="177.4" r="1.15"/><circle cx="187.2" cy="175.0" r="1.15"/><circle cx="183.8" cy="177.4" r="1.15"/><circle cx="188.8" cy="174.5" r="1.15"/><circle cx="185.4" cy="177.9" r="1.15"/><circle cx="172.3" cy="174.4" r="1.15"/><circle cx="185.9" cy="179.8" r="1.15"/><circle cx="173.2" cy="178.9" r="1.15"/><circle cx="187.5" cy="176.6" r="1.15"/><circle cx="180.8" cy="175.8" r="1.15"/><circle cx="173.1" cy="182.4" r="1.15"/><circle cx="183.5" cy="176.4" r="1.15"/><circle cx="171.2" cy="175.3" r="1.15"/><circle cx="181.5" cy="179.5" r="1.15"/><circle cx="175.0" cy="176.5" r="1.15"/><circle cx="181.6" cy="181.7" r="1.15"/><circle cx="185.5" cy="180.4" r="1.15"/><circle cx="173.6" cy="175.0" r="1.15"/><circle cx="184.0" cy="178.6" r="1.15"/><circle cx="183.7" cy="174.9" r="1.15"/><circle cx="185.5" cy="177.8" r="1.15"/><circle cx="186.1" cy="183.4" r="1.15"/><circle cx="179.3" cy="174.5" r="1.15"/><circle cx="187.4" cy="179.3" r="1.15"/><circle cx="186.7" cy="177.1" r="1.15"/><circle cx="173.2" cy="183.0" r="1.15"/><circle cx="176.8" cy="176.1" r="1.15"/><circle cx="176.9" cy="180.5" r="1.15"/><circle cx="169.7" cy="179.8" r="1.15"/><circle cx="178.3" cy="179.7" r="1.15"/><circle cx="172.0" cy="181.8" r="1.15"/><circle cx="185.6" cy="183.4" r="1.15"/><circle cx="175.9" cy="181.8" r="1.15"/><circle cx="177.1" cy="182.2" r="1.15"/><circle cx="170.8" cy="183.4" r="1.15"/><circle cx="242.0" cy="179.5" r="1.15"/><circle cx="233.4" cy="179.9" r="1.15"/><circle cx="233.8" cy="174.6" r="1.15"/><circle cx="242.3" cy="176.7" r="1.15"/><circle cx="226.9" cy="175.4" r="1.15"/><circle cx="228.2" cy="182.9" r="1.15"/><circle cx="223.9" cy="175.4" r="1.15"/><circle cx="237.0" cy="176.4" r="1.15"/><circle cx="223.6" cy="180.6" r="1.15"/><circle cx="234.6" cy="179.8" r="1.15"/><circle cx="237.1" cy="175.4" r="1.15"/><circle cx="240.3" cy="181.8" r="1.15"/><circle cx="224.2" cy="175.6" r="1.15"/><circle cx="233.0" cy="179.6" r="1.15"/><circle cx="228.8" cy="175.6" r="1.15"/><circle cx="231.3" cy="175.8" r="1.15"/><circle cx="234.9" cy="183.3" r="1.15"/><circle cx="226.2" cy="180.3" r="1.15"/><circle cx="237.9" cy="176.1" r="1.15"/><circle cx="239.5" cy="184.1" r="1.15"/><circle cx="230.9" cy="178.7" r="1.15"/><circle cx="239.8" cy="179.8" r="1.15"/><circle cx="231.1" cy="184.1" r="1.15"/><circle cx="238.5" cy="177.9" r="1.15"/><circle cx="228.0" cy="177.8" r="1.15"/><circle cx="231.8" cy="184.6" r="1.15"/><circle cx="239.1" cy="183.9" r="1.15"/><circle cx="239.3" cy="183.2" r="1.15"/><circle cx="224.3" cy="179.7" r="1.15"/><circle cx="242.1" cy="184.1" r="1.15"/><circle cx="228.2" cy="178.8" r="1.15"/><circle cx="235.7" cy="178.2" r="1.15"/><circle cx="233.7" cy="175.1" r="1.15"/><circle cx="231.8" cy="179.6" r="1.15"/><circle cx="223.7" cy="175.8" r="1.15"/><circle cx="242.3" cy="182.4" r="1.15"/><circle cx="241.7" cy="180.9" r="1.15"/><circle cx="239.2" cy="183.6" r="1.15"/><circle cx="240.6" cy="174.7" r="1.15"/><circle cx="235.9" cy="177.1" r="1.15"/><circle cx="236.6" cy="177.2" r="1.15"/><circle cx="233.9" cy="184.0" r="1.15"/><circle cx="235.5" cy="177.0" r="1.15"/><circle cx="233.5" cy="178.9" r="1.15"/><circle cx="241.9" cy="177.4" r="1.15"/><circle cx="229.3" cy="181.1" r="1.15"/><circle cx="225.7" cy="180.5" r="1.15"/><circle cx="242.0" cy="179.7" r="1.15"/><circle cx="228.6" cy="179.2" r="1.15"/><circle cx="233.8" cy="175.9" r="1.15"/><circle cx="225.7" cy="175.7" r="1.15"/><circle cx="229.1" cy="178.6" r="1.15"/><circle cx="229.0" cy="176.9" r="1.15"/><circle cx="225.0" cy="180.0" r="1.15"/><circle cx="239.8" cy="180.7" r="1.15"/><circle cx="234.5" cy="181.1" r="1.15"/><circle cx="227.2" cy="181.7" r="1.15"/><circle cx="232.3" cy="180.1" r="1.15"/><circle cx="235.3" cy="179.2" r="1.15"/><circle cx="229.4" cy="176.9" r="1.15"/><circle cx="227.6" cy="179.7" r="1.15"/><circle cx="230.8" cy="180.5" r="1.15"/><circle cx="223.5" cy="178.0" r="1.15"/><circle cx="240.2" cy="176.8" r="1.15"/><circle cx="234.2" cy="179.5" r="1.15"/><circle cx="228.9" cy="184.6" r="1.15"/><circle cx="229.1" cy="182.4" r="1.15"/><circle cx="226.4" cy="175.1" r="1.15"/><circle cx="240.4" cy="178.9" r="1.15"/><circle cx="224.5" cy="178.4" r="1.15"/><circle cx="231.9" cy="182.0" r="1.15"/><circle cx="225.4" cy="176.7" r="1.15"/><circle cx="242.1" cy="182.0" r="1.15"/><circle cx="226.3" cy="177.9" r="1.15"/><circle cx="230.2" cy="181.4" r="1.15"/><circle cx="235.4" cy="183.2" r="1.15"/><circle cx="239.4" cy="179.7" r="1.15"/><circle cx="237.8" cy="182.1" r="1.15"/><circle cx="238.2" cy="179.3" r="1.15"/><circle cx="238.7" cy="181.7" r="1.15"/><circle cx="241.2" cy="175.7" r="1.15"/><circle cx="240.4" cy="174.4" r="1.15"/><circle cx="238.3" cy="180.5" r="1.15"/><circle cx="233.1" cy="184.4" r="1.15"/><circle cx="234.5" cy="178.7" r="1.15"/><circle cx="238.7" cy="183.4" r="1.15"/><circle cx="235.2" cy="178.3" r="1.15"/><circle cx="232.2" cy="179.1" r="1.15"/><circle cx="237.5" cy="177.4" r="1.15"/><circle cx="231.0" cy="180.1" r="1.15"/><circle cx="230.8" cy="177.7" r="1.15"/><circle cx="238.7" cy="183.2" r="1.15"/><circle cx="233.1" cy="179.0" r="1.15"/><circle cx="226.9" cy="177.5" r="1.15"/><circle cx="226.1" cy="180.3" r="1.15"/><circle cx="234.7" cy="175.3" r="1.15"/><circle cx="241.3" cy="177.7" r="1.15"/><circle cx="239.8" cy="183.1" r="1.15"/><circle cx="242.1" cy="176.5" r="1.15"/><circle cx="231.7" cy="183.8" r="1.15"/><circle cx="223.5" cy="174.9" r="1.15"/><circle cx="234.4" cy="179.5" r="1.15"/><circle cx="241.3" cy="182.4" r="1.15"/><circle cx="233.9" cy="184.7" r="1.15"/><circle cx="233.4" cy="179.7" r="1.15"/><circle cx="236.7" cy="178.4" r="1.15"/><circle cx="230.3" cy="180.5" r="1.15"/><circle cx="230.2" cy="184.2" r="1.15"/><circle cx="236.6" cy="179.8" r="1.15"/><circle cx="225.2" cy="178.3" r="1.15"/><circle cx="284.8" cy="180.2" r="1.15"/><circle cx="288.2" cy="183.5" r="1.15"/><circle cx="295.8" cy="179.4" r="1.15"/><circle cx="285.5" cy="180.9" r="1.15"/><circle cx="296.4" cy="177.9" r="1.15"/><circle cx="287.3" cy="182.8" r="1.15"/><circle cx="280.2" cy="177.7" r="1.15"/><circle cx="296.1" cy="183.0" r="1.15"/><circle cx="286.9" cy="175.5" r="1.15"/><circle cx="294.4" cy="181.5" r="1.15"/><circle cx="293.0" cy="184.7" r="1.15"/><circle cx="294.3" cy="178.7" r="1.15"/><circle cx="280.0" cy="177.4" r="1.15"/><circle cx="286.9" cy="179.6" r="1.15"/><circle cx="280.6" cy="176.3" r="1.15"/><circle cx="289.2" cy="180.6" r="1.15"/><circle cx="283.8" cy="184.7" r="1.15"/><circle cx="289.4" cy="174.8" r="1.15"/><circle cx="285.0" cy="182.6" r="1.15"/><circle cx="282.9" cy="181.5" r="1.15"/><circle cx="277.0" cy="177.5" r="1.15"/><circle cx="293.4" cy="180.5" r="1.15"/><circle cx="290.0" cy="176.4" r="1.15"/><circle cx="286.7" cy="180.1" r="1.15"/><circle cx="282.1" cy="181.1" r="1.15"/><circle cx="287.3" cy="184.7" r="1.15"/><circle cx="288.2" cy="178.6" r="1.15"/><circle cx="279.3" cy="176.0" r="1.15"/><circle cx="291.8" cy="175.5" r="1.15"/><circle cx="278.9" cy="176.1" r="1.15"/><circle cx="287.1" cy="182.9" r="1.15"/><circle cx="288.9" cy="182.7" r="1.15"/><circle cx="278.1" cy="174.5" r="1.15"/><circle cx="292.0" cy="177.7" r="1.15"/><circle cx="290.9" cy="178.0" r="1.15"/><circle cx="280.2" cy="177.1" r="1.15"/><circle cx="278.8" cy="183.8" r="1.15"/><circle cx="288.3" cy="178.0" r="1.15"/><circle cx="285.7" cy="178.4" r="1.15"/><circle cx="278.0" cy="183.6" r="1.15"/><circle cx="288.3" cy="184.3" r="1.15"/><circle cx="285.5" cy="180.8" r="1.15"/><circle cx="281.8" cy="174.8" r="1.15"/><circle cx="295.1" cy="183.2" r="1.15"/><circle cx="283.1" cy="183.7" r="1.15"/><circle cx="292.9" cy="177.5" r="1.15"/><circle cx="288.7" cy="184.3" r="1.15"/><circle cx="286.6" cy="184.2" r="1.15"/><circle cx="281.7" cy="178.4" r="1.15"/><circle cx="291.0" cy="176.7" r="1.15"/><circle cx="283.0" cy="183.5" r="1.15"/><circle cx="286.4" cy="182.6" r="1.15"/><circle cx="281.7" cy="176.2" r="1.15"/><circle cx="283.9" cy="176.3" r="1.15"/><circle cx="295.9" cy="177.4" r="1.15"/><circle cx="287.9" cy="175.6" r="1.15"/><circle cx="287.4" cy="178.4" r="1.15"/><circle cx="284.8" cy="175.0" r="1.15"/><circle cx="279.3" cy="182.9" r="1.15"/><circle cx="283.8" cy="176.9" r="1.15"/><circle cx="280.6" cy="177.3" r="1.15"/><circle cx="281.5" cy="174.7" r="1.15"/><circle cx="289.9" cy="177.9" r="1.15"/><circle cx="280.0" cy="181.7" r="1.15"/><circle cx="278.7" cy="177.2" r="1.15"/><circle cx="293.3" cy="175.7" r="1.15"/><circle cx="285.6" cy="183.1" r="1.15"/><circle cx="292.7" cy="176.0" r="1.15"/><circle cx="283.8" cy="181.9" r="1.15"/><circle cx="284.3" cy="184.3" r="1.15"/><circle cx="281.0" cy="184.2" r="1.15"/><circle cx="286.8" cy="176.7" r="1.15"/><circle cx="285.8" cy="175.7" r="1.15"/><circle cx="290.7" cy="177.1" r="1.15"/><circle cx="294.5" cy="180.5" r="1.15"/><circle cx="284.1" cy="176.9" r="1.15"/><circle cx="288.8" cy="176.6" r="1.15"/><circle cx="294.0" cy="175.6" r="1.15"/><circle cx="287.0" cy="180.0" r="1.15"/><circle cx="282.2" cy="182.4" r="1.15"/><circle cx="284.4" cy="181.2" r="1.15"/><circle cx="288.0" cy="177.6" r="1.15"/><circle cx="284.5" cy="175.3" r="1.15"/><circle cx="280.4" cy="183.2" r="1.15"/><circle cx="283.2" cy="181.3" r="1.15"/><circle cx="279.0" cy="180.2" r="1.15"/><circle cx="284.0" cy="179.6" r="1.15"/><circle cx="282.7" cy="175.0" r="1.15"/><circle cx="283.0" cy="176.7" r="1.15"/><circle cx="279.4" cy="181.8" r="1.15"/><circle cx="282.4" cy="178.6" r="1.15"/><circle cx="294.7" cy="182.4" r="1.15"/><circle cx="294.2" cy="183.3" r="1.15"/><circle cx="279.5" cy="177.2" r="1.15"/><circle cx="277.5" cy="181.4" r="1.15"/><circle cx="289.9" cy="178.0" r="1.15"/><circle cx="285.0" cy="181.2" r="1.15"/><circle cx="290.6" cy="176.9" r="1.15"/><circle cx="293.5" cy="178.0" r="1.15"/><circle cx="289.2" cy="176.2" r="1.15"/><circle cx="279.2" cy="183.9" r="1.15"/><circle cx="291.3" cy="181.8" r="1.15"/><circle cx="277.7" cy="174.8" r="1.15"/><circle cx="280.1" cy="176.4" r="1.15"/><circle cx="282.8" cy="178.3" r="1.15"/><circle cx="277.7" cy="177.6" r="1.15"/><circle cx="289.4" cy="176.2" r="1.15"/><circle cx="293.4" cy="180.3" r="1.15"/><circle cx="290.9" cy="177.0" r="1.15"/><circle cx="285.4" cy="181.5" r="1.15"/><circle cx="283.7" cy="174.4" r="1.15"/><circle cx="293.3" cy="182.4" r="1.15"/><circle cx="282.5" cy="174.8" r="1.15"/><circle cx="293.6" cy="180.7" r="1.15"/><circle cx="277.8" cy="176.9" r="1.15"/><circle cx="279.1" cy="182.6" r="1.15"/><circle cx="281.0" cy="183.9" r="1.15"/><circle cx="291.6" cy="175.3" r="1.15"/><circle cx="290.5" cy="178.5" r="1.15"/><circle cx="291.6" cy="183.0" r="1.15"/><circle cx="67.8" cy="222.7" r="1.15"/><circle cx="80.8" cy="226.1" r="1.15"/><circle cx="80.5" cy="228.9" r="1.15"/><circle cx="76.8" cy="230.4" r="1.15"/><circle cx="74.6" cy="226.4" r="1.15"/><circle cx="63.4" cy="229.0" r="1.15"/><circle cx="70.7" cy="227.1" r="1.15"/><circle cx="80.5" cy="223.1" r="1.15"/><circle cx="77.2" cy="222.2" r="1.15"/><circle cx="76.1" cy="230.1" r="1.15"/><circle cx="67.4" cy="227.4" r="1.15"/><circle cx="81.3" cy="228.4" r="1.15"/><circle cx="73.0" cy="224.3" r="1.15"/><circle cx="63.5" cy="225.5" r="1.15"/><circle cx="70.4" cy="223.8" r="1.15"/><circle cx="68.4" cy="223.2" r="1.15"/><circle cx="76.2" cy="228.7" r="1.15"/><circle cx="67.0" cy="224.3" r="1.15"/><circle cx="72.4" cy="226.4" r="1.15"/><circle cx="80.6" cy="225.4" r="1.15"/><circle cx="68.2" cy="230.9" r="1.15"/><circle cx="65.1" cy="227.6" r="1.15"/><circle cx="68.8" cy="230.2" r="1.15"/><circle cx="73.0" cy="229.6" r="1.15"/><circle cx="65.6" cy="228.7" r="1.15"/><circle cx="74.0" cy="226.5" r="1.15"/><circle cx="77.3" cy="230.4" r="1.15"/><circle cx="64.5" cy="224.7" r="1.15"/><circle cx="123.1" cy="223.9" r="1.15"/><circle cx="117.2" cy="224.7" r="1.15"/><circle cx="119.9" cy="229.0" r="1.15"/><circle cx="124.8" cy="222.9" r="1.15"/><circle cx="122.4" cy="226.6" r="1.15"/><circle cx="123.1" cy="223.5" r="1.15"/><circle cx="117.4" cy="221.9" r="1.15"/><circle cx="135.4" cy="229.5" r="1.15"/><circle cx="117.6" cy="229.2" r="1.15"/><circle cx="135.2" cy="227.6" r="1.15"/><circle cx="118.1" cy="226.8" r="1.15"/><circle cx="124.5" cy="223.7" r="1.15"/><circle cx="126.6" cy="221.8" r="1.15"/><circle cx="134.0" cy="228.4" r="1.15"/><circle cx="128.3" cy="231.5" r="1.15"/><circle cx="128.8" cy="224.4" r="1.15"/><circle cx="120.8" cy="223.2" r="1.15"/><circle cx="116.5" cy="229.8" r="1.15"/><circle cx="132.5" cy="224.8" r="1.15"/><circle cx="119.6" cy="228.4" r="1.15"/><circle cx="132.6" cy="231.4" r="1.15"/><circle cx="119.3" cy="229.9" r="1.15"/><circle cx="132.3" cy="229.5" r="1.15"/><circle cx="122.4" cy="223.7" r="1.15"/><circle cx="132.2" cy="225.1" r="1.15"/><circle cx="123.2" cy="227.5" r="1.15"/><circle cx="123.2" cy="230.4" r="1.15"/><circle cx="120.7" cy="222.2" r="1.15"/><circle cx="180.7" cy="228.3" r="1.15"/><circle cx="185.7" cy="229.1" r="1.15"/><circle cx="187.3" cy="231.6" r="1.15"/><circle cx="179.3" cy="226.9" r="1.15"/><circle cx="172.7" cy="224.9" r="1.15"/><circle cx="181.0" cy="222.6" r="1.15"/><circle cx="183.1" cy="223.4" r="1.15"/><circle cx="178.3" cy="231.8" r="1.15"/><circle cx="171.4" cy="222.2" r="1.15"/><circle cx="178.2" cy="223.7" r="1.15"/><circle cx="183.8" cy="221.8" r="1.15"/><circle cx="186.1" cy="230.6" r="1.15"/><circle cx="185.0" cy="226.2" r="1.15"/><circle cx="175.2" cy="228.6" r="1.15"/><circle cx="179.7" cy="226.1" r="1.15"/><circle cx="176.2" cy="226.3" r="1.15"/><circle cx="182.7" cy="230.3" r="1.15"/><circle cx="187.3" cy="223.5" r="1.15"/><circle cx="175.4" cy="226.3" r="1.15"/><circle cx="180.6" cy="225.4" r="1.15"/><circle cx="173.4" cy="222.6" r="1.15"/><circle cx="175.9" cy="226.5" r="1.15"/><circle cx="188.6" cy="231.2" r="1.15"/><circle cx="186.6" cy="231.9" r="1.15"/><circle cx="188.5" cy="228.2" r="1.15"/><circle cx="185.5" cy="222.4" r="1.15"/><circle cx="236.6" cy="228.1" r="1.15"/><circle cx="229.1" cy="227.7" r="1.15"/><circle cx="242.0" cy="226.7" r="1.15"/><circle cx="236.0" cy="224.9" r="1.15"/><circle cx="230.0" cy="230.9" r="1.15"/><circle cx="223.8" cy="223.7" r="1.15"/><circle cx="236.6" cy="226.4" r="1.15"/><circle cx="225.0" cy="228.6" r="1.15"/><circle cx="230.6" cy="227.8" r="1.15"/><circle cx="231.5" cy="227.3" r="1.15"/><circle cx="234.4" cy="225.9" r="1.15"/><circle cx="225.5" cy="223.6" r="1.15"/><circle cx="240.7" cy="227.4" r="1.15"/><circle cx="225.5" cy="230.7" r="1.15"/><circle cx="228.3" cy="222.7" r="1.15"/><circle cx="233.7" cy="224.4" r="1.15"/><circle cx="232.9" cy="227.5" r="1.15"/><circle cx="227.7" cy="227.7" r="1.15"/><circle cx="225.5" cy="227.1" r="1.15"/><circle cx="234.8" cy="222.6" r="1.15"/><circle cx="231.3" cy="222.5" r="1.15"/><circle cx="231.9" cy="230.7" r="1.15"/><circle cx="234.1" cy="229.2" r="1.15"/><circle cx="238.1" cy="222.9" r="1.15"/><circle cx="296.3" cy="229.2" r="1.15"/><circle cx="278.9" cy="230.4" r="1.15"/><circle cx="284.6" cy="223.5" r="1.15"/><circle cx="295.7" cy="227.6" r="1.15"/><circle cx="292.1" cy="223.2" r="1.15"/><circle cx="292.1" cy="222.3" r="1.15"/><circle cx="281.5" cy="225.6" r="1.15"/><circle cx="277.2" cy="227.9" r="1.15"/><circle cx="281.1" cy="224.9" r="1.15"/><circle cx="290.8" cy="226.2" r="1.15"/><circle cx="294.3" cy="228.2" r="1.15"/><circle cx="294.0" cy="227.6" r="1.15"/><circle cx="294.9" cy="230.8" r="1.15"/><circle cx="280.2" cy="229.5" r="1.15"/><circle cx="283.6" cy="229.7" r="1.15"/><circle cx="290.2" cy="230.3" r="1.15"/><circle cx="279.3" cy="225.6" r="1.15"/><circle cx="291.4" cy="231.6" r="1.15"/><circle cx="291.0" cy="222.2" r="1.15"/><circle cx="288.7" cy="222.8" r="1.15"/><circle cx="287.7" cy="230.1" r="1.15"/><circle cx="279.1" cy="231.4" r="1.15"/><circle cx="290.1" cy="224.4" r="1.15"/><circle cx="280.7" cy="226.4" r="1.15"/><circle cx="78.7" cy="275.2" r="1.15"/><circle cx="64.5" cy="269.3" r="1.15"/><circle cx="64.5" cy="277.4" r="1.15"/><circle cx="65.9" cy="274.9" r="1.15"/><circle cx="68.0" cy="276.3" r="1.15"/><circle cx="69.8" cy="270.6" r="1.15"/><circle cx="79.5" cy="274.7" r="1.15"/><circle cx="75.8" cy="277.5" r="1.15"/><circle cx="80.9" cy="269.3" r="1.15"/><circle cx="69.0" cy="270.7" r="1.15"/><circle cx="72.1" cy="278.2" r="1.15"/><circle cx="78.0" cy="269.5" r="1.15"/><circle cx="65.9" cy="277.6" r="1.15"/><circle cx="75.6" cy="273.2" r="1.15"/><circle cx="71.6" cy="270.8" r="1.15"/><circle cx="78.9" cy="273.2" r="1.15"/><circle cx="79.4" cy="275.5" r="1.15"/><circle cx="63.8" cy="272.5" r="1.15"/><circle cx="66.5" cy="278.4" r="1.15"/><circle cx="73.8" cy="269.6" r="1.15"/><circle cx="65.6" cy="272.9" r="1.15"/><circle cx="71.5" cy="275.1" r="1.15"/><circle cx="69.9" cy="272.8" r="1.15"/><circle cx="62.4" cy="275.1" r="1.15"/><circle cx="68.8" cy="269.3" r="1.15"/><circle cx="71.3" cy="279.4" r="1.15"/><circle cx="63.2" cy="270.6" r="1.15"/><circle cx="75.5" cy="272.0" r="1.15"/><circle cx="67.7" cy="274.3" r="1.15"/><circle cx="67.4" cy="275.0" r="1.15"/><circle cx="72.7" cy="279.1" r="1.15"/><circle cx="81.7" cy="269.5" r="1.15"/><circle cx="127.0" cy="277.1" r="1.15"/><circle cx="133.1" cy="277.2" r="1.15"/><circle cx="128.4" cy="275.7" r="1.15"/><circle cx="123.1" cy="272.0" r="1.15"/><circle cx="131.6" cy="278.2" r="1.15"/><circle cx="134.4" cy="276.2" r="1.15"/><circle cx="122.0" cy="277.1" r="1.15"/><circle cx="130.5" cy="274.4" r="1.15"/><circle cx="128.5" cy="272.8" r="1.15"/><circle cx="126.8" cy="273.3" r="1.15"/><circle cx="117.2" cy="272.6" r="1.15"/><circle cx="122.3" cy="279.4" r="1.15"/><circle cx="125.4" cy="272.9" r="1.15"/><circle cx="120.8" cy="271.6" r="1.15"/><circle cx="122.8" cy="270.5" r="1.15"/><circle cx="116.1" cy="278.2" r="1.15"/><circle cx="124.9" cy="273.8" r="1.15"/><circle cx="127.1" cy="272.3" r="1.15"/><circle cx="119.3" cy="269.8" r="1.15"/><circle cx="121.9" cy="272.3" r="1.15"/><circle cx="130.2" cy="274.9" r="1.15"/><circle cx="134.4" cy="272.7" r="1.15"/><circle cx="134.1" cy="275.2" r="1.15"/><circle cx="117.6" cy="271.0" r="1.15"/><circle cx="127.4" cy="279.4" r="1.15"/><circle cx="123.0" cy="277.2" r="1.15"/><circle cx="124.4" cy="278.2" r="1.15"/><circle cx="117.3" cy="274.2" r="1.15"/><circle cx="133.6" cy="272.0" r="1.15"/><circle cx="121.0" cy="269.4" r="1.15"/><circle cx="119.2" cy="271.9" r="1.15"/><circle cx="129.8" cy="271.4" r="1.15"/><circle cx="177.4" cy="271.2" r="1.15"/><circle cx="181.4" cy="278.1" r="1.15"/><circle cx="182.3" cy="271.2" r="1.15"/><circle cx="184.0" cy="279.1" r="1.15"/><circle cx="181.4" cy="269.9" r="1.15"/><circle cx="185.5" cy="278.2" r="1.15"/><circle cx="176.3" cy="270.5" r="1.15"/><circle cx="173.3" cy="274.7" r="1.15"/><circle cx="186.8" cy="275.8" r="1.15"/><circle cx="187.7" cy="271.3" r="1.15"/><circle cx="176.0" cy="276.9" r="1.15"/><circle cx="182.3" cy="273.3" r="1.15"/><circle cx="182.9" cy="272.6" r="1.15"/><circle cx="170.7" cy="273.4" r="1.15"/><circle cx="170.5" cy="275.6" r="1.15"/><circle cx="176.2" cy="274.3" r="1.15"/><circle cx="181.3" cy="271.8" r="1.15"/><circle cx="178.7" cy="269.3" r="1.15"/><circle cx="187.7" cy="275.0" r="1.15"/><circle cx="189.0" cy="269.7" r="1.15"/><circle cx="181.6" cy="276.7" r="1.15"/><circle cx="176.1" cy="270.1" r="1.15"/><circle cx="172.7" cy="270.6" r="1.15"/><circle cx="184.6" cy="270.1" r="1.15"/><circle cx="185.6" cy="273.5" r="1.15"/><circle cx="180.2" cy="275.2" r="1.15"/><circle cx="180.5" cy="276.0" r="1.15"/><circle cx="181.4" cy="272.6" r="1.15"/><circle cx="184.1" cy="271.8" r="1.15"/><circle cx="183.5" cy="277.1" r="1.15"/><circle cx="238.5" cy="272.3" r="1.15"/><circle cx="238.4" cy="279.3" r="1.15"/><circle cx="232.2" cy="272.0" r="1.15"/><circle cx="233.6" cy="278.9" r="1.15"/><circle cx="225.9" cy="269.2" r="1.15"/><circle cx="232.6" cy="275.9" r="1.15"/><circle cx="238.5" cy="272.9" r="1.15"/><circle cx="242.7" cy="271.5" r="1.15"/><circle cx="238.1" cy="270.1" r="1.15"/><circle cx="223.8" cy="270.5" r="1.15"/><circle cx="224.5" cy="274.3" r="1.15"/><circle cx="234.2" cy="271.0" r="1.15"/><circle cx="241.7" cy="272.9" r="1.15"/><circle cx="226.2" cy="271.0" r="1.15"/><circle cx="237.8" cy="278.7" r="1.15"/><circle cx="226.5" cy="269.4" r="1.15"/><circle cx="238.6" cy="271.6" r="1.15"/><circle cx="242.6" cy="274.3" r="1.15"/><circle cx="235.8" cy="272.7" r="1.15"/><circle cx="239.0" cy="273.9" r="1.15"/><circle cx="229.6" cy="278.5" r="1.15"/><circle cx="225.4" cy="276.7" r="1.15"/><circle cx="224.6" cy="275.8" r="1.15"/><circle cx="231.2" cy="278.1" r="1.15"/><circle cx="224.5" cy="275.0" r="1.15"/><circle cx="231.3" cy="278.7" r="1.15"/><circle cx="241.8" cy="275.6" r="1.15"/><circle cx="227.7" cy="271.7" r="1.15"/><circle cx="282.0" cy="273.6" r="1.15"/><circle cx="281.4" cy="271.2" r="1.15"/><circle cx="291.8" cy="275.8" r="1.15"/><circle cx="282.7" cy="279.5" r="1.15"/><circle cx="281.1" cy="275.0" r="1.15"/><circle cx="280.0" cy="278.1" r="1.15"/><circle cx="293.9" cy="271.9" r="1.15"/><circle cx="291.6" cy="277.7" r="1.15"/><circle cx="282.4" cy="272.6" r="1.15"/><circle cx="286.4" cy="278.4" r="1.15"/><circle cx="280.1" cy="276.2" r="1.15"/><circle cx="288.6" cy="273.8" r="1.15"/><circle cx="288.3" cy="278.3" r="1.15"/><circle cx="281.0" cy="278.3" r="1.15"/><circle cx="284.0" cy="277.2" r="1.15"/><circle cx="293.8" cy="271.0" r="1.15"/><circle cx="293.8" cy="279.5" r="1.15"/><circle cx="282.7" cy="269.4" r="1.15"/><circle cx="279.1" cy="279.3" r="1.15"/><circle cx="277.1" cy="278.6" r="1.15"/><circle cx="279.9" cy="276.8" r="1.15"/><circle cx="278.8" cy="270.9" r="1.15"/><circle cx="290.3" cy="270.1" r="1.15"/><circle cx="283.6" cy="278.7" r="1.15"/><circle cx="290.9" cy="278.3" r="1.15"/><circle cx="296.1" cy="269.5" r="1.15"/><circle cx="66.9" cy="324.7" r="1.15"/><circle cx="75.8" cy="316.9" r="1.15"/><circle cx="72.2" cy="318.9" r="1.15"/><circle cx="70.7" cy="317.6" r="1.15"/><circle cx="62.7" cy="326.8" r="1.15"/><circle cx="68.5" cy="325.6" r="1.15"/><circle cx="64.7" cy="321.6" r="1.15"/><circle cx="65.0" cy="321.0" r="1.15"/><circle cx="65.8" cy="323.6" r="1.15"/><circle cx="65.2" cy="324.2" r="1.15"/><circle cx="72.1" cy="317.7" r="1.15"/><circle cx="69.2" cy="321.7" r="1.15"/><circle cx="80.3" cy="320.1" r="1.15"/><circle cx="66.5" cy="326.6" r="1.15"/><circle cx="79.6" cy="324.1" r="1.15"/><circle cx="67.7" cy="318.3" r="1.15"/><circle cx="67.5" cy="317.2" r="1.15"/><circle cx="63.1" cy="321.8" r="1.15"/><circle cx="70.3" cy="322.3" r="1.15"/><circle cx="69.4" cy="316.6" r="1.15"/><circle cx="75.8" cy="323.3" r="1.15"/><circle cx="73.0" cy="322.2" r="1.15"/><circle cx="75.8" cy="326.7" r="1.15"/><circle cx="79.4" cy="324.0" r="1.15"/><circle cx="70.1" cy="319.8" r="1.15"/><circle cx="70.5" cy="326.6" r="1.15"/><circle cx="69.9" cy="320.5" r="1.15"/><circle cx="70.3" cy="318.0" r="1.15"/><circle cx="81.9" cy="316.6" r="1.15"/><circle cx="74.2" cy="326.1" r="1.15"/><circle cx="67.3" cy="322.9" r="1.15"/><circle cx="69.7" cy="319.0" r="1.15"/><circle cx="66.2" cy="317.7" r="1.15"/><circle cx="78.8" cy="324.7" r="1.15"/><circle cx="80.1" cy="317.0" r="1.15"/><circle cx="75.9" cy="319.9" r="1.15"/><circle cx="75.0" cy="322.2" r="1.15"/><circle cx="68.5" cy="326.6" r="1.15"/><circle cx="62.3" cy="324.3" r="1.15"/><circle cx="79.0" cy="321.8" r="1.15"/><circle cx="73.9" cy="326.8" r="1.15"/><circle cx="66.9" cy="323.0" r="1.15"/><circle cx="76.9" cy="320.4" r="1.15"/><circle cx="76.3" cy="320.6" r="1.15"/><circle cx="72.6" cy="322.9" r="1.15"/><circle cx="75.6" cy="319.9" r="1.15"/><circle cx="74.6" cy="322.1" r="1.15"/><circle cx="66.7" cy="322.9" r="1.15"/><circle cx="67.5" cy="326.0" r="1.15"/><circle cx="71.6" cy="324.0" r="1.15"/><circle cx="72.5" cy="321.5" r="1.15"/><circle cx="66.6" cy="318.0" r="1.15"/><circle cx="80.5" cy="322.0" r="1.15"/><circle cx="72.6" cy="322.0" r="1.15"/><circle cx="78.2" cy="319.0" r="1.15"/><circle cx="65.7" cy="325.0" r="1.15"/><circle cx="71.3" cy="323.2" r="1.15"/><circle cx="78.5" cy="325.8" r="1.15"/><circle cx="79.3" cy="316.9" r="1.15"/><circle cx="69.8" cy="325.2" r="1.15"/><circle cx="78.3" cy="317.8" r="1.15"/><circle cx="65.3" cy="319.1" r="1.15"/><circle cx="118.0" cy="320.2" r="1.15"/><circle cx="131.7" cy="321.9" r="1.15"/><circle cx="124.9" cy="317.4" r="1.15"/><circle cx="123.8" cy="326.9" r="1.15"/><circle cx="129.6" cy="321.2" r="1.15"/><circle cx="125.4" cy="324.8" r="1.15"/><circle cx="130.9" cy="318.1" r="1.15"/><circle cx="129.3" cy="320.3" r="1.15"/><circle cx="126.2" cy="319.0" r="1.15"/><circle cx="123.3" cy="320.0" r="1.15"/><circle cx="123.5" cy="316.7" r="1.15"/><circle cx="119.9" cy="322.4" r="1.15"/><circle cx="117.1" cy="318.4" r="1.15"/><circle cx="130.1" cy="319.4" r="1.15"/><circle cx="122.4" cy="319.0" r="1.15"/><circle cx="132.3" cy="317.4" r="1.15"/><circle cx="128.5" cy="325.4" r="1.15"/><circle cx="120.0" cy="320.9" r="1.15"/><circle cx="131.5" cy="322.9" r="1.15"/><circle cx="123.3" cy="317.0" r="1.15"/><circle cx="124.7" cy="320.3" r="1.15"/><circle cx="130.0" cy="319.6" r="1.15"/><circle cx="124.0" cy="323.2" r="1.15"/><circle cx="131.9" cy="320.2" r="1.15"/><circle cx="123.6" cy="322.5" r="1.15"/><circle cx="134.1" cy="318.5" r="1.15"/><circle cx="135.0" cy="323.9" r="1.15"/><circle cx="123.3" cy="323.4" r="1.15"/><circle cx="122.5" cy="317.2" r="1.15"/><circle cx="130.8" cy="320.4" r="1.15"/><circle cx="126.3" cy="321.7" r="1.15"/><circle cx="133.7" cy="324.4" r="1.15"/><circle cx="116.5" cy="322.7" r="1.15"/><circle cx="125.1" cy="321.3" r="1.15"/><circle cx="132.5" cy="320.8" r="1.15"/><circle cx="125.3" cy="325.8" r="1.15"/><circle cx="124.6" cy="321.6" r="1.15"/><circle cx="126.0" cy="325.1" r="1.15"/><circle cx="129.1" cy="324.2" r="1.15"/><circle cx="123.9" cy="316.9" r="1.15"/><circle cx="129.3" cy="322.3" r="1.15"/><circle cx="131.1" cy="324.5" r="1.15"/><circle cx="118.3" cy="318.8" r="1.15"/><circle cx="117.5" cy="325.0" r="1.15"/><circle cx="118.0" cy="317.4" r="1.15"/><circle cx="130.8" cy="322.4" r="1.15"/><circle cx="117.1" cy="323.6" r="1.15"/><circle cx="129.9" cy="321.5" r="1.15"/><circle cx="117.1" cy="323.7" r="1.15"/><circle cx="124.2" cy="322.6" r="1.15"/><circle cx="135.6" cy="325.0" r="1.15"/><circle cx="133.1" cy="318.0" r="1.15"/><circle cx="122.6" cy="321.9" r="1.15"/><circle cx="116.1" cy="326.8" r="1.15"/><circle cx="121.4" cy="319.2" r="1.15"/><circle cx="122.1" cy="319.2" r="1.15"/><circle cx="132.8" cy="322.3" r="1.15"/><circle cx="126.0" cy="320.9" r="1.15"/><circle cx="117.0" cy="319.7" r="1.15"/><circle cx="133.0" cy="324.8" r="1.15"/><circle cx="132.8" cy="319.2" r="1.15"/><circle cx="120.0" cy="317.0" r="1.15"/><circle cx="180.1" cy="320.4" r="1.15"/><circle cx="178.7" cy="321.6" r="1.15"/><circle cx="181.0" cy="320.3" r="1.15"/><circle cx="185.3" cy="318.6" r="1.15"/><circle cx="187.6" cy="322.3" r="1.15"/><circle cx="170.6" cy="319.8" r="1.15"/><circle cx="180.0" cy="320.8" r="1.15"/><circle cx="180.7" cy="319.9" r="1.15"/><circle cx="175.0" cy="324.8" r="1.15"/><circle cx="175.3" cy="323.9" r="1.15"/><circle cx="185.3" cy="322.7" r="1.15"/><circle cx="178.5" cy="326.2" r="1.15"/><circle cx="178.3" cy="325.6" r="1.15"/><circle cx="170.7" cy="321.0" r="1.15"/><circle cx="182.1" cy="317.0" r="1.15"/><circle cx="186.5" cy="317.2" r="1.15"/><circle cx="181.3" cy="318.4" r="1.15"/><circle cx="187.7" cy="322.3" r="1.15"/><circle cx="185.3" cy="321.7" r="1.15"/><circle cx="182.8" cy="323.5" r="1.15"/><circle cx="175.4" cy="318.7" r="1.15"/><circle cx="186.0" cy="318.0" r="1.15"/><circle cx="187.6" cy="318.7" r="1.15"/><circle cx="171.6" cy="317.5" r="1.15"/><circle cx="185.0" cy="326.4" r="1.15"/><circle cx="177.7" cy="323.4" r="1.15"/><circle cx="174.6" cy="325.9" r="1.15"/><circle cx="183.0" cy="318.1" r="1.15"/><circle cx="170.7" cy="323.7" r="1.15"/><circle cx="170.4" cy="325.2" r="1.15"/><circle cx="175.4" cy="318.9" r="1.15"/><circle cx="181.0" cy="319.8" r="1.15"/><circle cx="180.6" cy="318.1" r="1.15"/><circle cx="187.5" cy="319.9" r="1.15"/><circle cx="186.1" cy="318.1" r="1.15"/><circle cx="185.3" cy="326.7" r="1.15"/><circle cx="177.3" cy="316.8" r="1.15"/><circle cx="177.0" cy="323.2" r="1.15"/><circle cx="174.0" cy="322.2" r="1.15"/><circle cx="171.4" cy="321.3" r="1.15"/><circle cx="183.9" cy="321.0" r="1.15"/><circle cx="182.9" cy="317.7" r="1.15"/><circle cx="185.8" cy="317.8" r="1.15"/><circle cx="187.7" cy="326.9" r="1.15"/><circle cx="188.0" cy="322.0" r="1.15"/><circle cx="175.3" cy="320.1" r="1.15"/><circle cx="184.3" cy="321.7" r="1.15"/><circle cx="187.8" cy="317.5" r="1.15"/><circle cx="179.1" cy="325.5" r="1.15"/><circle cx="181.3" cy="322.1" r="1.15"/><circle cx="171.3" cy="318.0" r="1.15"/><circle cx="174.9" cy="325.8" r="1.15"/><circle cx="186.2" cy="318.9" r="1.15"/><circle cx="187.7" cy="316.8" r="1.15"/><circle cx="181.3" cy="326.6" r="1.15"/><circle cx="176.3" cy="326.3" r="1.15"/><circle cx="182.5" cy="317.0" r="1.15"/><circle cx="176.1" cy="321.2" r="1.15"/><circle cx="228.1" cy="324.2" r="1.15"/><circle cx="226.8" cy="324.7" r="1.15"/><circle cx="229.1" cy="317.2" r="1.15"/><circle cx="234.3" cy="317.5" r="1.15"/><circle cx="234.1" cy="324.7" r="1.15"/><circle cx="235.0" cy="321.3" r="1.15"/><circle cx="224.0" cy="321.8" r="1.15"/><circle cx="225.2" cy="323.2" r="1.15"/><circle cx="225.9" cy="322.5" r="1.15"/><circle cx="230.2" cy="320.4" r="1.15"/><circle cx="236.3" cy="318.2" r="1.15"/><circle cx="226.6" cy="326.3" r="1.15"/><circle cx="229.8" cy="325.3" r="1.15"/><circle cx="240.4" cy="321.5" r="1.15"/><circle cx="226.2" cy="317.5" r="1.15"/><circle cx="240.5" cy="317.7" r="1.15"/><circle cx="233.0" cy="322.1" r="1.15"/><circle cx="225.6" cy="321.4" r="1.15"/><circle cx="226.5" cy="322.1" r="1.15"/><circle cx="233.2" cy="320.3" r="1.15"/><circle cx="227.2" cy="320.7" r="1.15"/><circle cx="227.3" cy="317.8" r="1.15"/><circle cx="228.0" cy="325.6" r="1.15"/><circle cx="233.1" cy="325.8" r="1.15"/><circle cx="223.6" cy="326.3" r="1.15"/><circle cx="232.9" cy="324.7" r="1.15"/><circle cx="234.5" cy="323.7" r="1.15"/><circle cx="227.8" cy="324.3" r="1.15"/><circle cx="226.3" cy="319.2" r="1.15"/><circle cx="223.9" cy="320.6" r="1.15"/><circle cx="233.5" cy="319.5" r="1.15"/><circle cx="240.8" cy="317.4" r="1.15"/><circle cx="234.6" cy="318.9" r="1.15"/><circle cx="235.0" cy="324.7" r="1.15"/><circle cx="237.2" cy="317.1" r="1.15"/><circle cx="228.1" cy="322.7" r="1.15"/><circle cx="242.6" cy="316.9" r="1.15"/><circle cx="235.4" cy="323.7" r="1.15"/><circle cx="239.3" cy="320.1" r="1.15"/><circle cx="239.2" cy="321.3" r="1.15"/><circle cx="241.3" cy="316.6" r="1.15"/><circle cx="241.7" cy="320.8" r="1.15"/><circle cx="231.3" cy="317.4" r="1.15"/><circle cx="228.1" cy="324.1" r="1.15"/><circle cx="236.6" cy="318.1" r="1.15"/><circle cx="230.0" cy="318.0" r="1.15"/><circle cx="227.2" cy="318.8" r="1.15"/><circle cx="229.8" cy="326.7" r="1.15"/><circle cx="242.8" cy="324.7" r="1.15"/><circle cx="232.7" cy="321.7" r="1.15"/><circle cx="238.6" cy="325.9" r="1.15"/><circle cx="238.0" cy="323.1" r="1.15"/><circle cx="227.2" cy="323.0" r="1.15"/><circle cx="239.9" cy="324.7" r="1.15"/><circle cx="225.1" cy="324.0" r="1.15"/><circle cx="230.1" cy="318.2" r="1.15"/><circle cx="242.2" cy="323.5" r="1.15"/><circle cx="237.9" cy="317.9" r="1.15"/><circle cx="239.5" cy="326.2" r="1.15"/><circle cx="241.0" cy="324.2" r="1.15"/><circle cx="239.6" cy="324.8" r="1.15"/><circle cx="234.9" cy="321.0" r="1.15"/><circle cx="239.5" cy="324.7" r="1.15"/><circle cx="240.4" cy="319.6" r="1.15"/><circle cx="242.1" cy="322.0" r="1.15"/><circle cx="241.8" cy="317.7" r="1.15"/><circle cx="242.3" cy="324.7" r="1.15"/><circle cx="228.2" cy="325.2" r="1.15"/><circle cx="227.8" cy="318.6" r="1.15"/><circle cx="232.3" cy="319.0" r="1.15"/><circle cx="233.0" cy="325.9" r="1.15"/><circle cx="236.7" cy="323.9" r="1.15"/><circle cx="231.0" cy="324.7" r="1.15"/><circle cx="238.9" cy="323.6" r="1.15"/><circle cx="241.8" cy="325.1" r="1.15"/><circle cx="231.3" cy="317.4" r="1.15"/><circle cx="236.1" cy="325.2" r="1.15"/><circle cx="230.0" cy="322.7" r="1.15"/><circle cx="239.7" cy="324.7" r="1.15"/><circle cx="223.4" cy="321.6" r="1.15"/><circle cx="223.6" cy="317.7" r="1.15"/><circle cx="239.2" cy="320.9" r="1.15"/><circle cx="288.8" cy="321.3" r="1.15"/><circle cx="283.5" cy="318.7" r="1.15"/><circle cx="283.8" cy="325.3" r="1.15"/><circle cx="289.0" cy="319.5" r="1.15"/><circle cx="278.6" cy="319.3" r="1.15"/><circle cx="290.6" cy="321.1" r="1.15"/><circle cx="289.9" cy="324.9" r="1.15"/><circle cx="279.3" cy="323.6" r="1.15"/><circle cx="277.7" cy="325.1" r="1.15"/><circle cx="280.5" cy="319.3" r="1.15"/><circle cx="295.7" cy="320.3" r="1.15"/><circle cx="281.3" cy="325.8" r="1.15"/><circle cx="288.9" cy="325.8" r="1.15"/><circle cx="284.6" cy="321.7" r="1.15"/><circle cx="295.6" cy="321.8" r="1.15"/><circle cx="296.3" cy="318.5" r="1.15"/><circle cx="293.2" cy="318.2" r="1.15"/><circle cx="287.2" cy="316.5" r="1.15"/><circle cx="280.3" cy="326.3" r="1.15"/><circle cx="285.8" cy="324.9" r="1.15"/><circle cx="281.8" cy="320.2" r="1.15"/><circle cx="278.9" cy="322.2" r="1.15"/><circle cx="293.8" cy="321.8" r="1.15"/><circle cx="284.3" cy="326.2" r="1.15"/><circle cx="294.4" cy="323.4" r="1.15"/><circle cx="278.4" cy="323.0" r="1.15"/><circle cx="285.6" cy="326.5" r="1.15"/><circle cx="284.0" cy="323.4" r="1.15"/><circle cx="289.3" cy="320.4" r="1.15"/><circle cx="287.1" cy="323.5" r="1.15"/><circle cx="294.7" cy="321.7" r="1.15"/><circle cx="284.0" cy="326.7" r="1.15"/><circle cx="278.0" cy="325.2" r="1.15"/><circle cx="290.3" cy="322.3" r="1.15"/><circle cx="285.7" cy="324.3" r="1.15"/><circle cx="294.4" cy="324.1" r="1.15"/><circle cx="291.6" cy="316.9" r="1.15"/><circle cx="283.3" cy="317.9" r="1.15"/><circle cx="295.6" cy="325.8" r="1.15"/><circle cx="279.7" cy="322.6" r="1.15"/><circle cx="288.2" cy="317.0" r="1.15"/><circle cx="284.6" cy="324.3" r="1.15"/><circle cx="289.5" cy="319.4" r="1.15"/><circle cx="291.8" cy="319.5" r="1.15"/><circle cx="287.6" cy="320.9" r="1.15"/><circle cx="296.1" cy="323.2" r="1.15"/><circle cx="292.7" cy="323.5" r="1.15"/><circle cx="284.4" cy="326.5" r="1.15"/><circle cx="290.8" cy="323.7" r="1.15"/><circle cx="282.3" cy="318.2" r="1.15"/><circle cx="288.2" cy="325.1" r="1.15"/><circle cx="292.5" cy="320.1" r="1.15"/></g>
<line x1="72.1" y1="173.3" x2="72.1" y2="189.9" stroke="#000" stroke-width="2"/>
<circle cx="72.1" cy="181.3" r="2.6" fill="#000"/>
<line x1="125.8" y1="192.5" x2="125.8" y2="207.6" stroke="#000" stroke-width="2"/>
<circle cx="125.8" cy="200.2" r="2.6" fill="#000"/>
<line x1="179.4" y1="184" x2="179.4" y2="199" stroke="#000" stroke-width="2"/>
<circle cx="179.4" cy="191.7" r="2.6" fill="#000"/>
<line x1="233.1" y1="190.1" x2="233.1" y2="206" stroke="#000" stroke-width="2"/>
<circle cx="233.1" cy="197.9" r="2.6" fill="#000"/>
<line x1="286.7" y1="173.6" x2="286.7" y2="188.3" stroke="#000" stroke-width="2"/>
<circle cx="286.7" cy="180.9" r="2.6" fill="#000"/>
<line x1="39.6" y1="181.6" x2="318" y2="181.6" stroke="#999" stroke-width="1" stroke-dasharray="3.2 3.205"/>
<rect x="40.4" y="17.7" width="278.4" height="322.6" fill="none" stroke="#767676" stroke-width="1.3"/>
<line x1="34" y1="321.4" x2="40.5" y2="321.4" stroke="#333" stroke-width="1.3"/>
<text x="32.6" y="325.3" font-size="10.3" text-anchor="end">1</text>
<line x1="34" y1="274.0" x2="40.5" y2="274.0" stroke="#333" stroke-width="1.3"/>
<text x="32.6" y="277.9" font-size="10.3" text-anchor="end">2</text>
<line x1="34" y1="226.6" x2="40.5" y2="226.6" stroke="#333" stroke-width="1.3"/>
<text x="32.6" y="230.5" font-size="10.3" text-anchor="end">3</text>
<line x1="34" y1="179.3" x2="40.5" y2="179.3" stroke="#333" stroke-width="1.3"/>
<text x="32.6" y="183.2" font-size="10.3" text-anchor="end">4</text>
<line x1="34" y1="131.9" x2="40.5" y2="131.9" stroke="#333" stroke-width="1.3"/>
<text x="32.6" y="135.8" font-size="10.3" text-anchor="end">5</text>
<line x1="34" y1="84.5" x2="40.5" y2="84.5" stroke="#333" stroke-width="1.3"/>
<text x="32.6" y="88.4" font-size="10.3" text-anchor="end">6</text>
<line x1="34" y1="37.1" x2="40.5" y2="37.1" stroke="#333" stroke-width="1.3"/>
<text x="32.6" y="41.0" font-size="10.3" text-anchor="end">7</text>
<line x1="72.1" y1="340.4" x2="72.1" y2="345.8" stroke="#333" stroke-width="1.3"/>
<text x="72.1" y="354.7" font-size="9.8" text-anchor="middle">control</text>
<line x1="125.8" y1="340.4" x2="125.8" y2="345.8" stroke="#333" stroke-width="1.3"/>
<text x="125.8" y="354.7" font-size="9.8" text-anchor="middle">strategic</text>
<line x1="179.4" y1="340.4" x2="179.4" y2="345.8" stroke="#333" stroke-width="1.3"/>
<text x="179.4" y="354.7" font-size="9.8" text-anchor="middle">leadership</text>
<line x1="233.1" y1="340.4" x2="233.1" y2="345.8" stroke="#333" stroke-width="1.3"/>
<text x="233.1" y="354.7" font-size="9.8" text-anchor="middle">science</text>
<line x1="286.7" y1="340.4" x2="286.7" y2="345.8" stroke="#333" stroke-width="1.3"/>
<text x="286.7" y="354.7" font-size="9.8" text-anchor="middle">crisis</text>
<text transform="translate(22.2,179) rotate(-90)" font-size="11.4" letter-spacing="0.25" text-anchor="middle">Vote intention (&gt; more likely)</text>
<text x="1.6" y="16.3" font-size="16" letter-spacing="0.6" style="stroke-width:0.08px">(A)</text>
<text x="326.6" y="16.3" font-size="16" letter-spacing="0.55" style="stroke-width:0.08px">(B)</text>
<line x1="569.5" y1="18" x2="569.5" y2="326.5" stroke="#ff3434" stroke-width="1.1"/>
<line x1="448.4" y1="62" x2="541.3" y2="62" stroke="#000" stroke-width="1.4"/>
<line x1="456" y1="62" x2="534" y2="62" stroke="#000" stroke-width="3"/>
<line x1="482" y1="135.5" x2="574.5" y2="135.5" stroke="#000" stroke-width="1.4"/>
<line x1="489.5" y1="135.5" x2="566.8" y2="135.5" stroke="#000" stroke-width="3"/>
<line x1="454.8" y1="209.4" x2="547.2" y2="209.4" stroke="#000" stroke-width="1.4"/>
<line x1="461.9" y1="209.4" x2="540.2" y2="209.4" stroke="#000" stroke-width="3"/>
<line x1="528.3" y1="283" x2="619.8" y2="283" stroke="#000" stroke-width="1.4"/>
<line x1="535.8" y1="283" x2="612.2" y2="283" stroke="#000" stroke-width="3"/>
<text x="444.29999999999995" y="58.6" font-size="10.7">Change – Strategic</text>
<text x="478.29999999999995" y="132.1" font-size="10.7">Change – Leader</text>
<text x="446.29999999999995" y="206.0" font-size="10.7">Change – Science</text>
<text x="531.4" y="279.6" font-size="10.7">Change – Crisis</text>
<line x1="569.5" y1="18" x2="569.5" y2="326.5" stroke="#ff3434" stroke-width="1.1"/>
<circle cx="494.9" cy="62" r="2.45" fill="#fff" stroke="#000" stroke-width="1.15"/>
<circle cx="528.4" cy="135.5" r="2.45" fill="#fff" stroke="#000" stroke-width="1.15"/>
<circle cx="500.9" cy="209.4" r="2.45" fill="#fff" stroke="#000" stroke-width="1.15"/>
<circle cx="573.8" cy="283" r="2.45" fill="#fff" stroke="#000" stroke-width="1.15"/>
<rect x="356.5" y="17.8" width="286" height="309.1" fill="none" stroke="#767676" stroke-width="1.3"/>
<line x1="350.3" y1="62" x2="356.5" y2="62" stroke="#333" stroke-width="1.3"/>
<line x1="350.3" y1="135.5" x2="356.5" y2="135.5" stroke="#333" stroke-width="1.3"/>
<line x1="350.3" y1="209.4" x2="356.5" y2="209.4" stroke="#333" stroke-width="1.3"/>
<line x1="350.3" y1="283" x2="356.5" y2="283" stroke="#333" stroke-width="1.3"/>
<line x1="409.5" y1="326.8" x2="409.5" y2="332.4" stroke="#333" stroke-width="1.3"/>
<text x="409.5" y="341.6" font-size="9.8" text-anchor="middle">−0.8</text>
<line x1="489.5" y1="326.8" x2="489.5" y2="332.4" stroke="#333" stroke-width="1.3"/>
<text x="489.5" y="341.6" font-size="9.8" text-anchor="middle">−0.4</text>
<line x1="569.5" y1="326.8" x2="569.5" y2="332.4" stroke="#333" stroke-width="1.3"/>
<text x="569.5" y="341.6" font-size="9.8" text-anchor="middle">0.0</text>
<text x="499.4" y="353.7" font-size="11.2" text-anchor="middle">ATE</text>
<path d="M0.5 361.1V0.5H646.5V361.1" fill="none" stroke="#888" stroke-width="1.1"/>
<line x1="0" y1="361.1" x2="647" y2="361.1" stroke="#6a6a6a" stroke-width="1.2"/>
<line x1="323.5" y1="0" x2="323.5" y2="361" stroke="#2a2a2a" stroke-width="1.1"/>
<text x="326.1" y="374.9" font-size="15.1" text-anchor="middle" style="stroke-width:0.12px">Nuclear Phase-out Plan</text>
</svg>
</body></html>
